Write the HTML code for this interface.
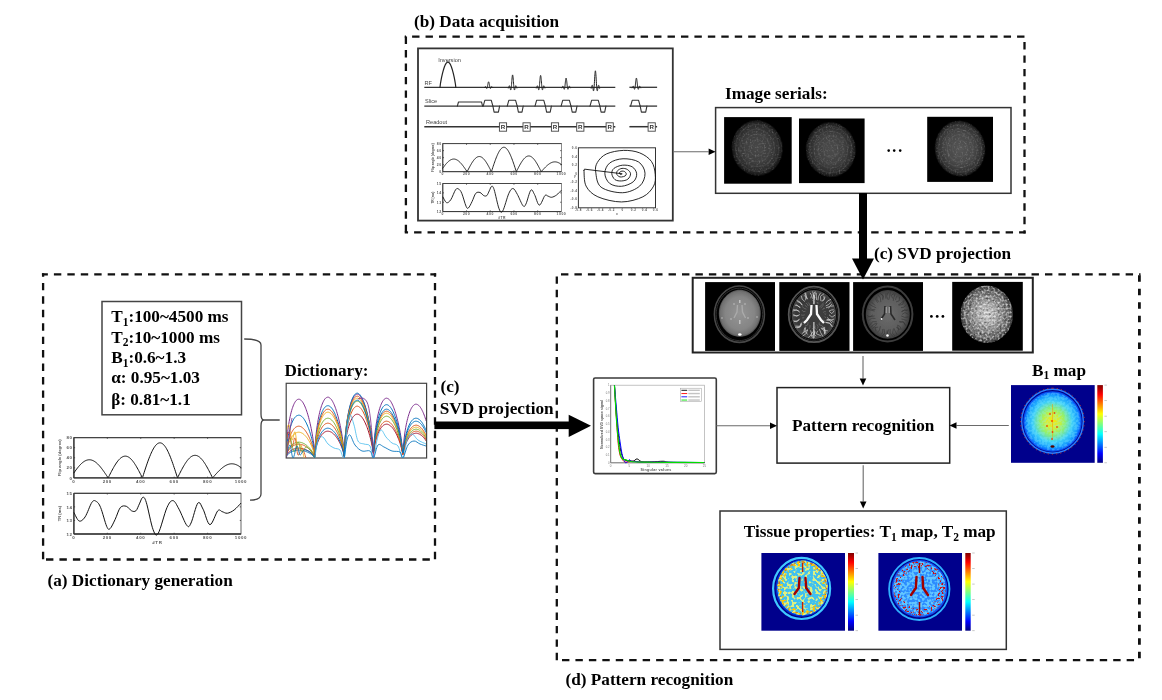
<!DOCTYPE html><html><head><meta charset="utf-8"><style>html,body{margin:0;padding:0;background:#fff;width:1162px;height:700px;overflow:hidden}svg{display:block;will-change:transform}</style></head><body><svg width="1162" height="700" viewBox="0 0 1162 700"><defs><clipPath id="dclip"><rect x="286.8" y="383.9" width="139.2" height="73.8"/></clipPath><filter id="noise" x="0" y="0" width="100%" height="100%"><feTurbulence type="fractalNoise" baseFrequency="0.6" numOctaves="2" seed="3"/><feColorMatrix type="matrix" values="0 0 0 0 1  0 0 0 0 1  0 0 0 0 1  0 0 0 2.2 -0.9"/></filter><filter id="noise2" x="0" y="0" width="100%" height="100%"><feTurbulence type="fractalNoise" baseFrequency="0.35" numOctaves="2" seed="11"/><feColorMatrix type="matrix" values="0 0 0 0 1  0 0 0 0 1  0 0 0 0 1  0 0 0 3 -1.4"/></filter><filter id="blur05"><feGaussianBlur stdDeviation="0.5"/></filter><filter id="blur1"><feGaussianBlur stdDeviation="1.2"/></filter><filter id="sn" x="0" y="0" width="100%" height="100%"><feTurbulence type="fractalNoise" baseFrequency="0.7" numOctaves="1" seed="2"/><feColorMatrix type="matrix" values="0 0 0 0 0.9  0 0 0 0 0.9  0 0 0 0 0.9  0 0 0 3 -1.5"/></filter><radialGradient id="gs1" cx="50%" cy="50%" r="50%"><stop offset="0" stop-color="#484848" stop-opacity="1"/><stop offset="0.55" stop-color="#3d3d3d" stop-opacity="1"/><stop offset="0.85" stop-color="#2b2b2b" stop-opacity="1"/><stop offset="1" stop-color="#151515" stop-opacity="1"/></radialGradient><clipPath id="cs1"><path d="M757.2,120.30000000000001 C770.0553348000001,120.30000000000001 782.5,132.65652 782.5,147.9 C782.5,163.14348 771.1731900000001,175.5 757.2,175.5 C743.22681,175.5 731.9000000000001,163.14348 731.9000000000001,147.9 C731.9000000000001,132.65652 744.3446652,120.30000000000001 757.2,120.30000000000001 Z"/></clipPath><radialGradient id="gs2" cx="50%" cy="50%" r="50%"><stop offset="0" stop-color="#4c4c4c" stop-opacity="1"/><stop offset="0.55" stop-color="#404040" stop-opacity="1"/><stop offset="0.85" stop-color="#2d2d2d" stop-opacity="1"/><stop offset="1" stop-color="#161616" stop-opacity="1"/></radialGradient><clipPath id="cs2"><path d="M830.8,122.2 C843.4012768,122.2 855.5999999999999,134.42221 855.5999999999999,149.5 C855.5999999999999,164.57779 844.49704,176.8 830.8,176.8 C817.1029599999999,176.8 806.0,164.57779 806.0,149.5 C806.0,134.42221 818.1987231999999,122.2 830.8,122.2 Z"/></clipPath><radialGradient id="gs3" cx="50%" cy="50%" r="50%"><stop offset="0" stop-color="#555555" stop-opacity="1"/><stop offset="0.55" stop-color="#484848" stop-opacity="1"/><stop offset="0.85" stop-color="#333333" stop-opacity="1"/><stop offset="1" stop-color="#191919" stop-opacity="1"/></radialGradient><clipPath id="cs3"><path d="M960,120.7 C972.7029,120.7 985,133.14606 985,148.5 C985,163.85394 973.8075,176.3 960,176.3 C946.1925,176.3 935,163.85394 935,148.5 C935,133.14606 947.2971,120.7 960,120.7 Z"/></clipPath><radialGradient id="gp1" cx="50%" cy="50%" r="50%"><stop offset="0" stop-color="#959595" stop-opacity="1"/><stop offset="0.7" stop-color="#858585" stop-opacity="1"/><stop offset="0.92" stop-color="#707070" stop-opacity="1"/><stop offset="1" stop-color="#505050" stop-opacity="1"/></radialGradient><radialGradient id="gp2" cx="50%" cy="50%" r="50%"><stop offset="0" stop-color="#404040" stop-opacity="1"/><stop offset="0.8" stop-color="#383838" stop-opacity="1"/><stop offset="1" stop-color="#4a4a4a" stop-opacity="1"/></radialGradient><radialGradient id="gp3" cx="50%" cy="50%" r="50%"><stop offset="0" stop-color="#6c6c6c" stop-opacity="1"/><stop offset="0.75" stop-color="#5c5c5c" stop-opacity="1"/><stop offset="1" stop-color="#3c3c3c" stop-opacity="1"/></radialGradient><radialGradient id="gp4" cx="50%" cy="50%" r="50%"><stop offset="0" stop-color="#d0d0d0" stop-opacity="1"/><stop offset="0.35" stop-color="#a8a8a8" stop-opacity="1"/><stop offset="0.7" stop-color="#707070" stop-opacity="1"/><stop offset="0.9" stop-color="#555" stop-opacity="1"/><stop offset="1" stop-color="#333" stop-opacity="1"/></radialGradient><filter id="noise3" x="0" y="0" width="100%" height="100%"><feTurbulence type="fractalNoise" baseFrequency="0.45" numOctaves="2" seed="5"/><feColorMatrix type="matrix" values="0 0 0 0 0  0 0 0 0 0  0 0 0 0 0  0 0 0 2.5 -1.15"/></filter><filter id="noise4" x="0" y="0" width="100%" height="100%"><feTurbulence type="fractalNoise" baseFrequency="0.5" numOctaves="2" seed="15"/><feColorMatrix type="matrix" values="0 0 0 0 1  0 0 0 0 1  0 0 0 0 1  0 0 0 3 -1.3"/></filter><clipPath id="cp4"><path d="M986.8,285.59999999999997 C1000.1126392,285.59999999999997 1013.0,298.40422 1013.0,314.2 C1013.0,329.99577999999997 1001.27026,342.8 986.8,342.8 C972.3297399999999,342.8 960.5999999999999,329.99577999999997 960.5999999999999,314.2 C960.5999999999999,298.40422 973.4873607999999,285.59999999999997 986.8,285.59999999999997 Z"/></clipPath><clipPath id="cp4b"><path d="M986.8,285.59999999999997 C1000.1126392,285.59999999999997 1013.0,298.40422 1013.0,314.2 C1013.0,329.99577999999997 1001.27026,342.8 986.8,342.8 C972.3297399999999,342.8 960.5999999999999,329.99577999999997 960.5999999999999,314.2 C960.5999999999999,298.40422 973.4873607999999,285.59999999999997 986.8,285.59999999999997 Z"/></clipPath><linearGradient id="jet" x1="0" y1="0" x2="0" y2="1"><stop offset="0" stop-color="#800000"/><stop offset="0.12" stop-color="#ff0000"/><stop offset="0.37" stop-color="#ffff00"/><stop offset="0.5" stop-color="#80ff80"/><stop offset="0.63" stop-color="#00ffff"/><stop offset="0.88" stop-color="#0000ff"/><stop offset="1" stop-color="#000080"/></linearGradient><filter id="yel" x="0" y="0" width="100%" height="100%"><feTurbulence type="fractalNoise" baseFrequency="0.32" numOctaves="1" seed="4"/><feColorMatrix type="matrix" values="0 0 0 0 0.85  0 0 0 0 0.9  0 0 0 0 0.15  0 0 0 9 -4.4"/></filter><filter id="ora" x="0" y="0" width="100%" height="100%"><feTurbulence type="fractalNoise" baseFrequency="0.45" numOctaves="1" seed="8"/><feColorMatrix type="matrix" values="0 0 0 0 1.0  0 0 0 0 0.55  0 0 0 0 0.0  0 0 0 8 -4.2"/></filter><filter id="red" x="0" y="0" width="100%" height="100%"><feTurbulence type="fractalNoise" baseFrequency="0.55" numOctaves="1" seed="13"/><feColorMatrix type="matrix" values="0 0 0 0 0.7  0 0 0 0 0.0  0 0 0 0 0.0  0 0 0 9 -4.9"/></filter><filter id="cya" x="0" y="0" width="100%" height="100%"><feTurbulence type="fractalNoise" baseFrequency="0.4" numOctaves="1" seed="17"/><feColorMatrix type="matrix" values="0 0 0 0 0.25  0 0 0 0 0.85  0 0 0 0 1.0  0 0 0 7 -3.0"/></filter><radialGradient id="b1g" cx="50%" cy="50%" r="50%"><stop offset="0" stop-color="#f8e800" stop-opacity="1"/><stop offset="0.22" stop-color="#d8f030" stop-opacity="1"/><stop offset="0.45" stop-color="#90f070" stop-opacity="1"/><stop offset="0.7" stop-color="#40d0f8" stop-opacity="1"/><stop offset="0.9" stop-color="#18a0ff" stop-opacity="1"/><stop offset="1" stop-color="#0868ff" stop-opacity="1"/></radialGradient><clipPath id="cb1c"><path d="M1052.5,392.5 C1066.881892,392.5 1080.5,405.4833 1080.5,421.5 C1080.5,437.5167 1067.9644,450.5 1052.5,450.5 C1037.0356,450.5 1024.5,437.5167 1024.5,421.5 C1024.5,405.4833 1038.118108,392.5 1052.5,392.5 Z"/></clipPath><filter id="yel2" x="0" y="0" width="100%" height="100%"><feTurbulence type="fractalNoise" baseFrequency="0.38" numOctaves="1" seed="4"/><feColorMatrix type="matrix" values="0 0 0 0 0.8  0 0 0 0 0.9  0 0 0 0 0.2  0 0 0 10 -5.0"/></filter><clipPath id="ct1y"><path d="M802.6,560.4 C815.5950667000001,560.4 827.9,572.66698 827.9,587.8 C827.9,602.9330199999999 816.5731900000001,615.1999999999999 802.6,615.1999999999999 C788.62681,615.1999999999999 777.3000000000001,602.9330199999999 777.3000000000001,587.8 C777.3000000000001,572.66698 789.6049333,560.4 802.6,560.4 Z"/></clipPath><clipPath id="ct1o"><path d="M802.6,560.4 C815.5950667000001,560.4 827.9,572.66698 827.9,587.8 C827.9,602.9330199999999 816.5731900000001,615.1999999999999 802.6,615.1999999999999 C788.62681,615.1999999999999 777.3000000000001,602.9330199999999 777.3000000000001,587.8 C777.3000000000001,572.66698 789.6049333,560.4 802.6,560.4 Z M802.6,565.8 C812.87278,565.8 822.6,575.6493999999999 822.6,587.8 C822.6,599.9506 813.6460000000001,609.8 802.6,609.8 C791.554,609.8 782.6,599.9506 782.6,587.8 C782.6,575.6493999999999 792.32722,565.8 802.6,565.8 Z" clip-rule="evenodd"/></clipPath><clipPath id="ct2c"><path d="M919.5,561.3 C932.9573418,561.3 945.7,573.47744 945.7,588.5 C945.7,603.52256 933.97026,615.7 919.5,615.7 C905.02974,615.7 893.3,603.52256 893.3,588.5 C893.3,573.47744 906.0426582,561.3 919.5,561.3 Z"/></clipPath><clipPath id="ct2r"><path d="M919.5,561.3 C932.9573418,561.3 945.7,573.47744 945.7,588.5 C945.7,603.52256 933.97026,615.7 919.5,615.7 C905.02974,615.7 893.3,603.52256 893.3,588.5 C893.3,573.47744 906.0426582,561.3 919.5,561.3 Z M919.5,568.0 C929.5159605,568.0 939.0,577.17785 939.0,588.5 C939.0,599.82215 930.26985,609.0 919.5,609.0 C908.73015,609.0 900.0,599.82215 900.0,588.5 C900.0,577.17785 909.4840395,568.0 919.5,568.0 Z" clip-rule="evenodd"/></clipPath></defs><rect width="1162" height="700" fill="#fff"/><path d="M404.75,36.7 L406.06,36.7 M412.10,36.7 L419.50,36.7 M425.54,36.7 L432.94,36.7 M438.99,36.7 L446.39,36.7 M452.43,36.7 L459.83,36.7 M465.88,36.7 L473.28,36.7 M479.32,36.7 L486.72,36.7 M492.76,36.7 L500.16,36.7 M506.21,36.7 L513.61,36.7 M519.65,36.7 L527.05,36.7 M533.10,36.7 L540.50,36.7 M546.54,36.7 L553.94,36.7 M559.98,36.7 L567.38,36.7 M573.43,36.7 L580.83,36.7 M586.87,36.7 L594.27,36.7 M600.32,36.7 L607.72,36.7 M613.76,36.7 L621.16,36.7 M627.20,36.7 L634.60,36.7 M640.65,36.7 L648.05,36.7 M654.09,36.7 L661.49,36.7 M667.54,36.7 L674.94,36.7 M680.98,36.7 L688.38,36.7 M694.42,36.7 L701.82,36.7 M707.87,36.7 L715.27,36.7 M721.31,36.7 L728.71,36.7 M734.76,36.7 L742.16,36.7 M748.20,36.7 L755.60,36.7 M761.64,36.7 L769.04,36.7 M775.09,36.7 L782.49,36.7 M788.53,36.7 L795.93,36.7 M801.98,36.7 L809.38,36.7 M815.42,36.7 L822.82,36.7 M828.86,36.7 L836.26,36.7 M842.31,36.7 L849.71,36.7 M855.75,36.7 L863.15,36.7 M869.20,36.7 L876.60,36.7 M882.64,36.7 L890.04,36.7 M896.08,36.7 L903.48,36.7 M909.53,36.7 L916.93,36.7 M922.97,36.7 L930.37,36.7 M936.42,36.7 L943.82,36.7 M949.86,36.7 L957.26,36.7 M963.30,36.7 L970.70,36.7 M976.75,36.7 L984.15,36.7 M990.19,36.7 L997.59,36.7 M1003.64,36.7 L1011.04,36.7 M1017.08,36.7 L1024.48,36.7" stroke="#111" stroke-width="2.3" fill="none"/>
<path d="M404.75,232.4 L408.06,232.4 M414.10,232.4 L421.50,232.4 M427.54,232.4 L434.94,232.4 M440.99,232.4 L448.39,232.4 M454.43,232.4 L461.83,232.4 M467.88,232.4 L475.28,232.4 M481.32,232.4 L488.72,232.4 M494.76,232.4 L502.16,232.4 M508.21,232.4 L515.61,232.4 M521.65,232.4 L529.05,232.4 M535.10,232.4 L542.50,232.4 M548.54,232.4 L555.94,232.4 M561.98,232.4 L569.38,232.4 M575.43,232.4 L582.83,232.4 M588.87,232.4 L596.27,232.4 M602.32,232.4 L609.72,232.4 M615.76,232.4 L623.16,232.4 M629.20,232.4 L636.60,232.4 M642.65,232.4 L650.05,232.4 M656.09,232.4 L663.49,232.4 M669.54,232.4 L676.94,232.4 M682.98,232.4 L690.38,232.4 M696.42,232.4 L703.82,232.4 M709.87,232.4 L717.27,232.4 M723.31,232.4 L730.71,232.4 M736.76,232.4 L744.16,232.4 M750.20,232.4 L757.60,232.4 M763.64,232.4 L771.04,232.4 M777.09,232.4 L784.49,232.4 M790.53,232.4 L797.93,232.4 M803.98,232.4 L811.38,232.4 M817.42,232.4 L824.82,232.4 M830.86,232.4 L838.26,232.4 M844.31,232.4 L851.71,232.4 M857.75,232.4 L865.15,232.4 M871.20,232.4 L878.60,232.4 M884.64,232.4 L892.04,232.4 M898.08,232.4 L905.48,232.4 M911.53,232.4 L918.93,232.4 M924.97,232.4 L932.37,232.4 M938.42,232.4 L945.82,232.4 M951.86,232.4 L959.26,232.4 M965.30,232.4 L972.70,232.4 M978.75,232.4 L986.15,232.4 M992.19,232.4 L999.59,232.4 M1005.64,232.4 L1013.04,232.4 M1019.08,232.4 L1025.65,232.4" stroke="#111" stroke-width="2.3" fill="none"/>
<path d="M405.9,36.60 L405.9,44.00 M405.9,50.04 L405.9,57.44 M405.9,63.49 L405.9,70.89 M405.9,76.93 L405.9,84.33 M405.9,90.38 L405.9,97.78 M405.9,103.82 L405.9,111.22 M405.9,117.26 L405.9,124.66 M405.9,130.71 L405.9,138.11 M405.9,144.15 L405.9,151.55 M405.9,157.60 L405.9,165.00 M405.9,171.04 L405.9,178.44 M405.9,184.48 L405.9,191.88 M405.9,197.93 L405.9,205.33 M405.9,211.37 L405.9,218.77 M405.9,224.82 L405.9,232.22" stroke="#111" stroke-width="2.3" fill="none"/>
<path d="M1024.5,42.00 L1024.5,49.40 M1024.5,55.44 L1024.5,62.84 M1024.5,68.89 L1024.5,76.29 M1024.5,82.33 L1024.5,89.73 M1024.5,95.78 L1024.5,103.18 M1024.5,109.22 L1024.5,116.62 M1024.5,122.66 L1024.5,130.06 M1024.5,136.11 L1024.5,143.51 M1024.5,149.55 L1024.5,156.95 M1024.5,163.00 L1024.5,170.40 M1024.5,176.44 L1024.5,183.84 M1024.5,189.88 L1024.5,197.28 M1024.5,203.33 L1024.5,210.73 M1024.5,216.77 L1024.5,224.17 M1024.5,230.22 L1024.5,233.55" stroke="#111" stroke-width="2.3" fill="none"/>
<path d="M41.95,274.4 L47.86,274.4 M53.90,274.4 L61.30,274.4 M67.34,274.4 L74.74,274.4 M80.79,274.4 L88.19,274.4 M94.23,274.4 L101.63,274.4 M107.68,274.4 L115.08,274.4 M121.12,274.4 L128.52,274.4 M134.56,274.4 L141.96,274.4 M148.01,274.4 L155.41,274.4 M161.45,274.4 L168.85,274.4 M174.90,274.4 L182.30,274.4 M188.34,274.4 L195.74,274.4 M201.78,274.4 L209.18,274.4 M215.23,274.4 L222.63,274.4 M228.67,274.4 L236.07,274.4 M242.12,274.4 L249.52,274.4 M255.56,274.4 L262.96,274.4 M269.00,274.4 L276.40,274.4 M282.45,274.4 L289.85,274.4 M295.89,274.4 L303.29,274.4 M309.34,274.4 L316.74,274.4 M322.78,274.4 L330.18,274.4 M336.22,274.4 L343.62,274.4 M349.67,274.4 L357.07,274.4 M363.11,274.4 L370.51,274.4 M376.56,274.4 L383.96,274.4 M390.00,274.4 L397.40,274.4 M403.44,274.4 L410.84,274.4 M416.89,274.4 L424.29,274.4 M430.33,274.4 L436.15,274.4" stroke="#111" stroke-width="2.3" fill="none"/>
<path d="M46.00,559.5 L53.40,559.5 M59.44,559.5 L66.84,559.5 M72.89,559.5 L80.29,559.5 M86.33,559.5 L93.73,559.5 M99.78,559.5 L107.18,559.5 M113.22,559.5 L120.62,559.5 M126.66,559.5 L134.06,559.5 M140.11,559.5 L147.51,559.5 M153.55,559.5 L160.95,559.5 M167.00,559.5 L174.40,559.5 M180.44,559.5 L187.84,559.5 M193.88,559.5 L201.28,559.5 M207.33,559.5 L214.73,559.5 M220.77,559.5 L228.17,559.5 M234.22,559.5 L241.62,559.5 M247.66,559.5 L255.06,559.5 M261.10,559.5 L268.50,559.5 M274.55,559.5 L281.95,559.5 M287.99,559.5 L295.39,559.5 M301.44,559.5 L308.84,559.5 M314.88,559.5 L322.28,559.5 M328.32,559.5 L335.72,559.5 M341.77,559.5 L349.17,559.5 M355.21,559.5 L362.61,559.5 M368.66,559.5 L376.06,559.5 M382.10,559.5 L389.50,559.5 M395.54,559.5 L402.94,559.5 M408.99,559.5 L416.39,559.5 M422.43,559.5 L429.83,559.5" stroke="#111" stroke-width="2.3" fill="none"/>
<path d="M43.1,273.25 L43.1,276.86 M43.1,282.90 L43.1,290.30 M43.1,296.34 L43.1,303.74 M43.1,309.79 L43.1,317.19 M43.1,323.23 L43.1,330.63 M43.1,336.68 L43.1,344.08 M43.1,350.12 L43.1,357.52 M43.1,363.56 L43.1,370.96 M43.1,377.01 L43.1,384.41 M43.1,390.45 L43.1,397.85 M43.1,403.90 L43.1,411.30 M43.1,417.34 L43.1,424.74 M43.1,430.78 L43.1,438.18 M43.1,444.23 L43.1,451.63 M43.1,457.67 L43.1,465.07 M43.1,471.12 L43.1,478.52 M43.1,484.56 L43.1,491.96 M43.1,498.00 L43.1,505.40 M43.1,511.45 L43.1,518.85 M43.1,524.89 L43.1,532.29 M43.1,538.34 L43.1,545.74 M43.1,551.78 L43.1,559.18" stroke="#111" stroke-width="2.3" fill="none"/>
<path d="M435,273.25 L435,276.86 M435,282.90 L435,290.30 M435,296.34 L435,303.74 M435,309.79 L435,317.19 M435,323.23 L435,330.63 M435,336.68 L435,344.08 M435,350.12 L435,357.52 M435,363.56 L435,370.96 M435,377.01 L435,384.41 M435,390.45 L435,397.85 M435,403.90 L435,411.30 M435,417.34 L435,424.74 M435,430.78 L435,438.18 M435,444.23 L435,451.63 M435,457.67 L435,465.07 M435,471.12 L435,478.52 M435,484.56 L435,491.96 M435,498.00 L435,505.40 M435,511.45 L435,518.85 M435,524.89 L435,532.29 M435,538.34 L435,545.74 M435,551.78 L435,559.18" stroke="#111" stroke-width="2.3" fill="none"/>
<path d="M561.00,274.4 L568.40,274.4 M574.44,274.4 L581.84,274.4 M587.89,274.4 L595.29,274.4 M601.33,274.4 L608.73,274.4 M614.78,274.4 L622.18,274.4 M628.22,274.4 L635.62,274.4 M641.66,274.4 L649.06,274.4 M655.11,274.4 L662.51,274.4 M668.55,274.4 L675.95,274.4 M682.00,274.4 L689.40,274.4 M695.44,274.4 L702.84,274.4 M708.88,274.4 L716.28,274.4 M722.33,274.4 L729.73,274.4 M735.77,274.4 L743.17,274.4 M749.22,274.4 L756.62,274.4 M762.66,274.4 L770.06,274.4 M776.10,274.4 L783.50,274.4 M789.55,274.4 L796.95,274.4 M802.99,274.4 L810.39,274.4 M816.44,274.4 L823.84,274.4 M829.88,274.4 L837.28,274.4 M843.32,274.4 L850.72,274.4 M856.77,274.4 L864.17,274.4 M870.21,274.4 L877.61,274.4 M883.66,274.4 L891.06,274.4 M897.10,274.4 L904.50,274.4 M910.54,274.4 L917.94,274.4 M923.99,274.4 L931.39,274.4 M937.43,274.4 L944.83,274.4 M950.88,274.4 L958.28,274.4 M964.32,274.4 L971.72,274.4 M977.76,274.4 L985.16,274.4 M991.21,274.4 L998.61,274.4 M1004.65,274.4 L1012.05,274.4 M1018.10,274.4 L1025.50,274.4 M1031.54,274.4 L1038.94,274.4 M1044.98,274.4 L1052.38,274.4 M1058.43,274.4 L1065.83,274.4 M1071.87,274.4 L1079.27,274.4 M1085.32,274.4 L1092.72,274.4 M1098.76,274.4 L1106.16,274.4 M1112.20,274.4 L1119.60,274.4 M1125.65,274.4 L1133.05,274.4 M1139.09,274.4 L1140.55,274.4" stroke="#111" stroke-width="2.3" fill="none"/>
<path d="M562.00,660.1 L569.40,660.1 M575.44,660.1 L582.84,660.1 M588.89,660.1 L596.29,660.1 M602.33,660.1 L609.73,660.1 M615.78,660.1 L623.18,660.1 M629.22,660.1 L636.62,660.1 M642.66,660.1 L650.06,660.1 M656.11,660.1 L663.51,660.1 M669.55,660.1 L676.95,660.1 M683.00,660.1 L690.40,660.1 M696.44,660.1 L703.84,660.1 M709.88,660.1 L717.28,660.1 M723.33,660.1 L730.73,660.1 M736.77,660.1 L744.17,660.1 M750.22,660.1 L757.62,660.1 M763.66,660.1 L771.06,660.1 M777.10,660.1 L784.50,660.1 M790.55,660.1 L797.95,660.1 M803.99,660.1 L811.39,660.1 M817.44,660.1 L824.84,660.1 M830.88,660.1 L838.28,660.1 M844.32,660.1 L851.72,660.1 M857.77,660.1 L865.17,660.1 M871.21,660.1 L878.61,660.1 M884.66,660.1 L892.06,660.1 M898.10,660.1 L905.50,660.1 M911.54,660.1 L918.94,660.1 M924.99,660.1 L932.39,660.1 M938.43,660.1 L945.83,660.1 M951.88,660.1 L959.28,660.1 M965.32,660.1 L972.72,660.1 M978.76,660.1 L986.16,660.1 M992.21,660.1 L999.61,660.1 M1005.65,660.1 L1013.05,660.1 M1019.10,660.1 L1026.50,660.1 M1032.54,660.1 L1039.94,660.1 M1045.98,660.1 L1053.38,660.1 M1059.43,660.1 L1066.83,660.1 M1072.87,660.1 L1080.27,660.1 M1086.32,660.1 L1093.72,660.1 M1099.76,660.1 L1107.16,660.1 M1113.20,660.1 L1120.60,660.1 M1126.65,660.1 L1134.05,660.1" stroke="#111" stroke-width="2.3" fill="none"/>
<path d="M556.8,276.40 L556.8,283.80 M556.8,289.84 L556.8,297.24 M556.8,303.29 L556.8,310.69 M556.8,316.73 L556.8,324.13 M556.8,330.18 L556.8,337.58 M556.8,343.62 L556.8,351.02 M556.8,357.06 L556.8,364.46 M556.8,370.51 L556.8,377.91 M556.8,383.95 L556.8,391.35 M556.8,397.40 L556.8,404.80 M556.8,410.84 L556.8,418.24 M556.8,424.28 L556.8,431.68 M556.8,437.73 L556.8,445.13 M556.8,451.17 L556.8,458.57 M556.8,464.62 L556.8,472.02 M556.8,478.06 L556.8,485.46 M556.8,491.50 L556.8,498.90 M556.8,504.95 L556.8,512.35 M556.8,518.39 L556.8,525.79 M556.8,531.84 L556.8,539.24 M556.8,545.28 L556.8,552.68 M556.8,558.72 L556.8,566.12 M556.8,572.17 L556.8,579.57 M556.8,585.61 L556.8,593.01 M556.8,599.06 L556.8,606.46 M556.8,612.50 L556.8,619.90 M556.8,625.94 L556.8,633.34 M556.8,639.39 L556.8,646.79 M556.8,652.83 L556.8,660.23" stroke="#111" stroke-width="2.3" fill="none"/>
<path d="M1139.4,275.30 L1139.4,281.80 M1139.4,288.74 L1139.4,295.24 M1139.4,302.19 L1139.4,308.69 M1139.4,315.63 L1139.4,322.13 M1139.4,329.08 L1139.4,335.58 M1139.4,342.52 L1139.4,349.02 M1139.4,355.96 L1139.4,362.46 M1139.4,369.41 L1139.4,375.91 M1139.4,382.85 L1139.4,389.35 M1139.4,396.30 L1139.4,402.80 M1139.4,409.74 L1139.4,416.24 M1139.4,423.18 L1139.4,429.68 M1139.4,436.63 L1139.4,443.13 M1139.4,450.07 L1139.4,456.57 M1139.4,463.52 L1139.4,470.02 M1139.4,476.96 L1139.4,483.46 M1139.4,490.40 L1139.4,496.90 M1139.4,503.85 L1139.4,510.35 M1139.4,517.29 L1139.4,523.79 M1139.4,530.74 L1139.4,537.24 M1139.4,544.18 L1139.4,550.68 M1139.4,557.62 L1139.4,564.12 M1139.4,571.07 L1139.4,577.57 M1139.4,584.51 L1139.4,591.01 M1139.4,597.96 L1139.4,604.46 M1139.4,611.40 L1139.4,617.90 M1139.4,624.84 L1139.4,631.34 M1139.4,638.29 L1139.4,644.79 M1139.4,651.73 L1139.4,658.23" stroke="#111" stroke-width="2.8" fill="none"/>
<text x="414" y="26.5" font-family="Liberation Serif" font-weight="bold" font-size="17.2" >(b) Data acquisition</text>
<text x="725" y="99" font-family="Liberation Serif" font-weight="bold" font-size="17.2" >Image serials:</text>
<text x="874" y="259.3" font-family="Liberation Serif" font-weight="bold" font-size="17.2" >(c) SVD projection</text>
<text x="47.5" y="586" font-family="Liberation Serif" font-weight="bold" font-size="17.2" >(a) Dictionary generation</text>
<text x="284.5" y="375.5" font-family="Liberation Serif" font-weight="bold" font-size="17.2" >Dictionary:</text>
<text x="440.5" y="391.5" font-family="Liberation Serif" font-weight="bold" font-size="17.2" >(c)</text>
<text x="439.8" y="414" font-family="Liberation Serif" font-weight="bold" font-size="17.2" >SVD projection</text>
<text x="792" y="430.6" font-family="Liberation Serif" font-weight="bold" font-size="17.2" >Pattern recognition</text>
<text x="1032" y="375.5" font-family="Liberation Serif" font-weight="bold" font-size="17.2" >B<tspan font-size="11.5" dy="3.5">1</tspan><tspan dy="-3.5"> map</tspan></text>
<text x="743.8" y="537.3" font-family="Liberation Serif" font-weight="bold" font-size="17.2" >Tissue properties: T<tspan font-size="11.5" dy="3.5">1</tspan><tspan dy="-3.5"> map, T</tspan><tspan font-size="11.5" dy="3.5">2</tspan><tspan dy="-3.5"> map</tspan></text>
<text x="565.5" y="685" font-family="Liberation Serif" font-weight="bold" font-size="17.2" >(d) Pattern recognition</text>
<text x="111.2" y="322.2" font-family="Liberation Serif" font-weight="bold" font-size="17.2" >T<tspan font-size="11.5" dy="3.5">1</tspan><tspan dy="-3.5">:100~4500 ms</tspan></text>
<text x="111.2" y="342.59999999999997" font-family="Liberation Serif" font-weight="bold" font-size="17.2" >T<tspan font-size="11.5" dy="3.5">2</tspan><tspan dy="-3.5">:10~1000 ms</tspan></text>
<text x="111.2" y="363.3" font-family="Liberation Serif" font-weight="bold" font-size="17.2" >B<tspan font-size="11.5" dy="3.5">1</tspan><tspan dy="-3.5">:0.6~1.3</tspan></text>
<text x="111.2" y="383.3" font-family="Liberation Serif" font-weight="bold" font-size="17.2" >α: 0.95~1.03</text>
<text x="111.2" y="404.7" font-family="Liberation Serif" font-weight="bold" font-size="17.2" >β: 0.81~1.1</text>
<rect x="418" y="48.4" width="254.79999999999995" height="172.2" fill="none" stroke="#333" stroke-width="1.8" rx="0"/>
<rect x="715.6" y="107.6" width="295.4" height="85.70000000000002" fill="none" stroke="#333" stroke-width="1.5" rx="0"/>
<rect x="102" y="301.5" width="139.5" height="113.30000000000001" fill="none" stroke="#444" stroke-width="1.5" rx="0"/>
<rect x="286.2" y="383.3" width="140.40000000000003" height="74.69999999999999" fill="none" stroke="#444" stroke-width="1.2" rx="0"/>
<rect x="692.7" y="277.8" width="340.0999999999999" height="74.69999999999999" fill="none" stroke="#222" stroke-width="2" rx="0"/>
<rect x="593.6" y="378" width="122.69999999999993" height="95.60000000000002" fill="none" stroke="#3a3a3a" stroke-width="1.6" rx="1.5"/>
<rect x="777" y="387.6" width="172.70000000000005" height="75.5" fill="none" stroke="#222" stroke-width="1.5" rx="0"/>
<rect x="720" y="511" width="286.29999999999995" height="138.39999999999998" fill="none" stroke="#333" stroke-width="1.5" rx="0"/>
<line x1="673" y1="151.8" x2="708.6" y2="151.8" stroke="#6a6a6a" stroke-width="1.1"/>
<polygon points="715.6,151.8 708.6,148.5 708.6,155.10000000000002" fill="#000"/>
<rect x="859" y="193" width="8" height="66" fill="#000"/>
<polygon points="852,258.6 874,258.6 863,279.4" fill="#000"/>
<rect x="434.4" y="421.5" width="135" height="7.6" fill="#000"/>
<polygon points="568.7,414.8 568.7,436.9 591,425.8" fill="#000"/>
<line x1="863" y1="356" x2="863" y2="378.5" stroke="#6a6a6a" stroke-width="1.1"/>
<polygon points="863,385.5 859.7,378.5 866.3,378.5" fill="#000"/>
<line x1="716.3" y1="425.7" x2="770" y2="425.7" stroke="#6a6a6a" stroke-width="1.1"/>
<polygon points="777,425.7 770,422.4 770,429.0" fill="#000"/>
<line x1="1008.8" y1="425.5" x2="956.5" y2="425.5" stroke="#6a6a6a" stroke-width="1.1"/>
<polygon points="949.5,425.5 956.5,422.2 956.5,428.8" fill="#000"/>
<line x1="863.2" y1="465.3" x2="863.2" y2="501.4" stroke="#6a6a6a" stroke-width="1.1"/>
<polygon points="863.2,508.4 859.9000000000001,501.4 866.5,501.4" fill="#000"/>
<path d="M244.2,339 Q261,339 261,345 L261,414 Q261,420 264,420 L279.7,420 M264,420 Q261,420 261,426 L261,494 Q261,500 250,500.2" fill="none" stroke="#444" stroke-width="1.3"/>
<line x1="424.3" y1="87.3" x2="615.3" y2="87.3" stroke="#333" stroke-width="1.3"/>
<line x1="629.4" y1="87.3" x2="657.1" y2="87.3" stroke="#333" stroke-width="1.3"/>
<line x1="424.3" y1="106.1" x2="615.3" y2="106.1" stroke="#333" stroke-width="1.3"/>
<line x1="629.4" y1="106.1" x2="657.1" y2="106.1" stroke="#333" stroke-width="1.3"/>
<line x1="424.3" y1="126.7" x2="615.3" y2="126.7" stroke="#333" stroke-width="1.5"/>
<line x1="629.4" y1="126.7" x2="657.1" y2="126.7" stroke="#333" stroke-width="1.5"/>
<text x="424.5" y="85.3" font-family="Liberation Sans" font-size="5.6" fill="#444" >RF</text>
<text x="425" y="103.2" font-family="Liberation Sans" font-size="5.6" fill="#444" >Slice</text>
<text x="426" y="124.2" font-family="Liberation Sans" font-size="5.6" fill="#444" >Readout</text>
<text x="438.2" y="62.2" font-family="Liberation Sans" font-size="5.6" fill="#444" >Inversion</text>
<polyline fill="none" stroke="#222" stroke-width="1.2" stroke-linejoin="round" stroke-linecap="round" points="440.00,87.30 440.39,84.01 440.79,81.59 441.19,79.43 441.58,77.45 441.98,75.61 442.37,73.90 442.76,72.31 443.16,70.83 443.56,69.46 443.95,68.20 444.35,67.06 444.74,66.03 445.13,65.12 445.53,64.32 445.93,63.65 446.32,63.09 446.72,62.66 447.11,62.35 447.50,62.16 447.90,62.10 448.30,62.16 448.69,62.35 449.08,62.66 449.48,63.09 449.88,63.65 450.27,64.32 450.67,65.12 451.06,66.03 451.45,67.06 451.85,68.20 452.25,69.46 452.64,70.83 453.04,72.31 453.43,73.90 453.82,75.61 454.22,77.45 454.62,79.43 455.01,81.59 455.41,84.01 455.80,87.30" />
<polyline fill="none" stroke="#222" stroke-width="1" stroke-linejoin="round" stroke-linecap="round" points="484.44,87.62 484.54,87.51 484.65,87.37 484.75,87.23 484.86,87.08 484.96,86.93 485.06,86.80 485.17,86.70 485.27,86.63 485.38,86.60 485.48,86.61 485.58,86.66 485.69,86.76 485.79,86.91 485.90,87.09 486.00,87.30 486.10,87.53 486.21,87.76 486.31,87.98 486.42,88.18 486.52,88.34 486.62,88.45 486.73,88.49 486.83,88.46 486.94,88.35 487.04,88.16 487.14,87.88 487.25,87.51 487.35,87.07 487.46,86.57 487.56,86.01 487.66,85.43 487.77,84.82 487.87,84.23 487.98,83.66 488.08,83.14 488.18,82.68 488.29,82.31 488.39,82.03 488.50,81.86 488.60,81.80 488.70,81.86 488.81,82.03 488.91,82.31 489.02,82.68 489.12,83.14 489.22,83.66 489.33,84.23 489.43,84.82 489.54,85.43 489.64,86.01 489.74,86.57 489.85,87.07 489.95,87.51 490.06,87.88 490.16,88.16 490.26,88.35 490.37,88.46 490.47,88.49 490.58,88.45 490.68,88.34 490.78,88.18 490.89,87.98 490.99,87.76 491.10,87.53 491.20,87.30 491.30,87.09 491.41,86.91 491.51,86.76 491.62,86.66 491.72,86.61 491.82,86.60 491.93,86.63 492.03,86.70 492.14,86.80 492.24,86.93 492.34,87.08 492.45,87.23 492.55,87.37 492.66,87.51 492.76,87.62" />
<polyline fill="none" stroke="#222" stroke-width="1" stroke-linejoin="round" stroke-linecap="round" points="508.44,88.03 508.54,87.77 508.65,87.46 508.75,87.13 508.86,86.80 508.96,86.47 509.06,86.18 509.17,85.95 509.27,85.79 509.38,85.71 509.48,85.74 509.58,85.86 509.69,86.09 509.79,86.42 509.90,86.83 510.00,87.30 510.10,87.81 510.21,88.33 510.31,88.84 510.42,89.28 510.52,89.65 510.62,89.89 510.73,89.99 510.83,89.93 510.94,89.68 511.04,89.23 511.14,88.60 511.25,87.78 511.35,86.78 511.46,85.65 511.56,84.40 511.66,83.08 511.77,81.72 511.87,80.38 511.98,79.09 512.08,77.92 512.18,76.89 512.29,76.04 512.39,75.42 512.50,75.03 512.60,74.90 512.70,75.03 512.81,75.42 512.91,76.04 513.02,76.89 513.12,77.92 513.22,79.09 513.33,80.38 513.43,81.72 513.54,83.08 513.64,84.40 513.74,85.65 513.85,86.78 513.95,87.78 514.06,88.60 514.16,89.23 514.26,89.68 514.37,89.93 514.47,89.99 514.58,89.89 514.68,89.65 514.78,89.28 514.89,88.84 514.99,88.33 515.10,87.81 515.20,87.30 515.30,86.83 515.41,86.42 515.51,86.09 515.62,85.86 515.72,85.74 515.82,85.71 515.93,85.79 516.03,85.95 516.14,86.18 516.24,86.47 516.34,86.80 516.45,87.13 516.55,87.46 516.66,87.77 516.76,88.03" />
<polyline fill="none" stroke="#222" stroke-width="1" stroke-linejoin="round" stroke-linecap="round" points="536.44,88.00 536.54,87.75 536.65,87.46 536.75,87.14 536.86,86.82 536.96,86.50 537.06,86.23 537.17,86.00 537.27,85.85 537.38,85.78 537.48,85.80 537.58,85.92 537.69,86.14 537.79,86.46 537.90,86.85 538.00,87.30 538.10,87.79 538.21,88.29 538.31,88.77 538.42,89.20 538.52,89.55 538.62,89.79 538.73,89.88 538.83,89.82 538.94,89.58 539.04,89.16 539.14,88.55 539.25,87.76 539.35,86.81 539.46,85.72 539.56,84.52 539.66,83.25 539.77,81.94 539.87,80.66 539.98,79.42 540.08,78.29 540.18,77.31 540.29,76.50 540.39,75.89 540.50,75.52 540.60,75.40 540.70,75.52 540.81,75.89 540.91,76.50 541.02,77.31 541.12,78.29 541.22,79.42 541.33,80.66 541.43,81.94 541.54,83.25 541.64,84.52 541.74,85.72 541.85,86.81 541.95,87.76 542.06,88.55 542.16,89.16 542.26,89.58 542.37,89.82 542.47,89.88 542.58,89.79 542.68,89.55 542.78,89.20 542.89,88.77 542.99,88.29 543.10,87.79 543.20,87.30 543.30,86.85 543.41,86.46 543.51,86.14 543.62,85.92 543.72,85.80 543.82,85.78 543.93,85.85 544.03,86.00 544.14,86.23 544.24,86.50 544.34,86.82 544.45,87.14 544.55,87.46 544.66,87.75 544.76,88.00" />
<polyline fill="none" stroke="#222" stroke-width="1" stroke-linejoin="round" stroke-linecap="round" points="561.94,87.84 562.04,87.65 562.15,87.42 562.25,87.18 562.36,86.93 562.46,86.69 562.56,86.47 562.67,86.30 562.77,86.18 562.88,86.12 562.98,86.14 563.08,86.23 563.19,86.41 563.29,86.65 563.40,86.95 563.50,87.30 563.60,87.68 563.71,88.07 563.81,88.44 563.92,88.77 564.02,89.04 564.12,89.22 564.23,89.30 564.33,89.25 564.44,89.06 564.54,88.73 564.64,88.26 564.75,87.65 564.85,86.92 564.96,86.07 565.06,85.15 565.16,84.17 565.27,83.16 565.37,82.16 565.48,81.21 565.58,80.34 565.68,79.57 565.79,78.95 565.89,78.48 566.00,78.20 566.10,78.10 566.20,78.20 566.31,78.48 566.41,78.95 566.52,79.57 566.62,80.34 566.72,81.21 566.83,82.16 566.93,83.16 567.04,84.17 567.14,85.15 567.24,86.07 567.35,86.92 567.45,87.65 567.56,88.26 567.66,88.73 567.76,89.06 567.87,89.25 567.97,89.30 568.08,89.22 568.18,89.04 568.28,88.77 568.39,88.44 568.49,88.07 568.60,87.68 568.70,87.30 568.80,86.95 568.91,86.65 569.01,86.41 569.12,86.23 569.22,86.14 569.32,86.12 569.43,86.18 569.53,86.30 569.64,86.47 569.74,86.69 569.84,86.93 569.95,87.18 570.05,87.42 570.16,87.65 570.26,87.84" />
<polyline fill="none" stroke="#222" stroke-width="1" stroke-linejoin="round" stroke-linecap="round" points="591.24,88.26 591.34,87.92 591.45,87.52 591.55,87.08 591.66,86.63 591.76,86.20 591.86,85.81 591.97,85.50 592.07,85.28 592.18,85.19 592.28,85.22 592.38,85.39 592.49,85.69 592.59,86.13 592.70,86.67 592.80,87.30 592.90,87.98 593.01,88.68 593.11,89.34 593.22,89.94 593.32,90.42 593.42,90.75 593.53,90.88 593.63,90.79 593.74,90.46 593.84,89.87 593.94,89.03 594.05,87.93 594.15,86.61 594.26,85.10 594.36,83.44 594.46,81.68 594.57,79.87 594.67,78.09 594.78,76.38 594.88,74.81 594.98,73.44 595.09,72.32 595.19,71.49 595.30,70.97 595.40,70.80 595.50,70.97 595.61,71.49 595.71,72.32 595.82,73.44 595.92,74.81 596.02,76.38 596.13,78.09 596.23,79.87 596.34,81.68 596.44,83.44 596.54,85.10 596.65,86.61 596.75,87.93 596.86,89.03 596.96,89.87 597.06,90.46 597.17,90.79 597.27,90.88 597.38,90.75 597.48,90.42 597.58,89.94 597.69,89.34 597.79,88.68 597.90,87.98 598.00,87.30 598.10,86.67 598.21,86.13 598.31,85.69 598.42,85.39 598.52,85.22 598.62,85.19 598.73,85.28 598.83,85.50 598.94,85.81 599.04,86.20 599.14,86.63 599.25,87.08 599.35,87.52 599.46,87.92 599.56,88.26" />
<polyline fill="none" stroke="#222" stroke-width="1" stroke-linejoin="round" stroke-linecap="round" points="632.24,87.84 632.34,87.65 632.45,87.42 632.55,87.18 632.66,86.93 632.76,86.69 632.86,86.47 632.97,86.30 633.07,86.18 633.18,86.12 633.28,86.14 633.38,86.23 633.49,86.41 633.59,86.65 633.70,86.95 633.80,87.30 633.90,87.68 634.01,88.07 634.11,88.44 634.22,88.77 634.32,89.04 634.42,89.22 634.53,89.30 634.63,89.25 634.74,89.06 634.84,88.73 634.94,88.26 635.05,87.65 635.15,86.92 635.26,86.07 635.36,85.15 635.46,84.17 635.57,83.16 635.67,82.16 635.78,81.21 635.88,80.34 635.98,79.57 636.09,78.95 636.19,78.48 636.30,78.20 636.40,78.10 636.50,78.20 636.61,78.48 636.71,78.95 636.82,79.57 636.92,80.34 637.02,81.21 637.13,82.16 637.23,83.16 637.34,84.17 637.44,85.15 637.54,86.07 637.65,86.92 637.75,87.65 637.86,88.26 637.96,88.73 638.06,89.06 638.17,89.25 638.27,89.30 638.38,89.22 638.48,89.04 638.58,88.77 638.69,88.44 638.79,88.07 638.90,87.68 639.00,87.30 639.10,86.95 639.21,86.65 639.31,86.41 639.42,86.23 639.52,86.14 639.62,86.12 639.73,86.18 639.83,86.30 639.94,86.47 640.04,86.69 640.14,86.93 640.25,87.18 640.35,87.42 640.46,87.65 640.56,87.84" />
<polyline fill="none" stroke="#333" stroke-width="1.1" stroke-linejoin="round" stroke-linecap="round" points="457.30,106.10 458.50,102.00 481.50,102.00 482.60,106.10" />
<polyline fill="none" stroke="#333" stroke-width="1.1" stroke-linejoin="round" stroke-linecap="round" points="483.20,106.10 484.80,100.30 491.30,100.30 492.90,106.10" />
<polyline fill="none" stroke="#333" stroke-width="1.1" stroke-linejoin="round" stroke-linecap="round" points="507.20,106.10 508.80,100.30 515.60,100.30 517.20,106.10" />
<polyline fill="none" stroke="#333" stroke-width="1.1" stroke-linejoin="round" stroke-linecap="round" points="535.00,106.10 536.60,100.30 543.80,100.30 545.40,106.10" />
<polyline fill="none" stroke="#333" stroke-width="1.1" stroke-linejoin="round" stroke-linecap="round" points="561.10,106.10 562.70,100.30 569.40,100.30 571.00,106.10" />
<polyline fill="none" stroke="#333" stroke-width="1.1" stroke-linejoin="round" stroke-linecap="round" points="590.00,106.10 591.60,100.30 598.30,100.30 599.90,106.10" />
<polyline fill="none" stroke="#333" stroke-width="1.1" stroke-linejoin="round" stroke-linecap="round" points="630.60,106.10 632.20,100.30 638.60,100.30 640.20,106.10" />
<polyline fill="none" stroke="#333" stroke-width="1.1" stroke-linejoin="round" stroke-linecap="round" points="492.90,106.10 494.10,112.10 498.40,112.10 499.60,106.10" />
<polyline fill="none" stroke="#333" stroke-width="1.1" stroke-linejoin="round" stroke-linecap="round" points="517.20,106.10 518.40,112.10 522.00,112.10 523.20,106.10" />
<polyline fill="none" stroke="#333" stroke-width="1.1" stroke-linejoin="round" stroke-linecap="round" points="545.40,106.10 546.60,112.10 550.20,112.10 551.40,106.10" />
<polyline fill="none" stroke="#333" stroke-width="1.1" stroke-linejoin="round" stroke-linecap="round" points="571.00,106.10 572.20,112.10 575.80,112.10 577.00,106.10" />
<polyline fill="none" stroke="#333" stroke-width="1.1" stroke-linejoin="round" stroke-linecap="round" points="599.90,106.10 601.10,112.10 604.70,112.10 605.90,106.10" />
<polyline fill="none" stroke="#333" stroke-width="1.1" stroke-linejoin="round" stroke-linecap="round" points="640.20,106.10 641.40,112.10 645.70,112.10 646.90,106.10" />
<rect x="499.4" y="122.8" width="7.2" height="8.4" fill="#fff" stroke="#444" stroke-width="0.9"/>
<text x="503" y="129.3" font-family="Liberation Sans" font-weight="bold" font-size="6.2" fill="#333" text-anchor="middle">R</text>
<rect x="523.0" y="122.8" width="7.2" height="8.4" fill="#fff" stroke="#444" stroke-width="0.9"/>
<text x="526.6" y="129.3" font-family="Liberation Sans" font-weight="bold" font-size="6.2" fill="#333" text-anchor="middle">R</text>
<rect x="551.4" y="122.8" width="7.2" height="8.4" fill="#fff" stroke="#444" stroke-width="0.9"/>
<text x="555" y="129.3" font-family="Liberation Sans" font-weight="bold" font-size="6.2" fill="#333" text-anchor="middle">R</text>
<rect x="576.6999999999999" y="122.8" width="7.2" height="8.4" fill="#fff" stroke="#444" stroke-width="0.9"/>
<text x="580.3" y="129.3" font-family="Liberation Sans" font-weight="bold" font-size="6.2" fill="#333" text-anchor="middle">R</text>
<rect x="606.1" y="122.8" width="7.2" height="8.4" fill="#fff" stroke="#444" stroke-width="0.9"/>
<text x="609.7" y="129.3" font-family="Liberation Sans" font-weight="bold" font-size="6.2" fill="#333" text-anchor="middle">R</text>
<rect x="648.1" y="122.8" width="7.2" height="8.4" fill="#fff" stroke="#444" stroke-width="0.9"/>
<text x="651.7" y="129.3" font-family="Liberation Sans" font-weight="bold" font-size="6.2" fill="#333" text-anchor="middle">R</text>
<rect x="442.8" y="143.6" width="118.59999999999997" height="28.099999999999994" fill="none" stroke="#555" stroke-width="0.675"/>
<line x1="442.8" y1="143.6" x2="561.4" y2="143.6" stroke="#444" stroke-width="0.9750000000000001"/>
<line x1="442.8" y1="171.7" x2="561.4" y2="171.7" stroke="#333" stroke-width="0.9750000000000001"/>
<line x1="442.8" y1="143.6" x2="442.8" y2="171.7" stroke="#333" stroke-width="0.9750000000000001"/>
<line x1="466.52" y1="143.6" x2="466.52" y2="144.79999999999998" stroke="#333" stroke-width="0.8"/>
<line x1="466.52" y1="171.7" x2="466.52" y2="170.5" stroke="#333" stroke-width="0.8"/>
<line x1="490.24" y1="143.6" x2="490.24" y2="144.79999999999998" stroke="#333" stroke-width="0.8"/>
<line x1="490.24" y1="171.7" x2="490.24" y2="170.5" stroke="#333" stroke-width="0.8"/>
<line x1="513.96" y1="143.6" x2="513.96" y2="144.79999999999998" stroke="#333" stroke-width="0.8"/>
<line x1="513.96" y1="171.7" x2="513.96" y2="170.5" stroke="#333" stroke-width="0.8"/>
<line x1="537.68" y1="143.6" x2="537.68" y2="144.79999999999998" stroke="#333" stroke-width="0.8"/>
<line x1="537.68" y1="171.7" x2="537.68" y2="170.5" stroke="#333" stroke-width="0.8"/>
<line x1="442.8" y1="164.67499999999998" x2="444.0" y2="164.67499999999998" stroke="#333" stroke-width="0.8"/>
<line x1="561.4" y1="164.67499999999998" x2="560.1999999999999" y2="164.67499999999998" stroke="#333" stroke-width="0.8"/>
<line x1="442.8" y1="157.64999999999998" x2="444.0" y2="157.64999999999998" stroke="#333" stroke-width="0.8"/>
<line x1="561.4" y1="157.64999999999998" x2="560.1999999999999" y2="157.64999999999998" stroke="#333" stroke-width="0.8"/>
<line x1="442.8" y1="150.625" x2="444.0" y2="150.625" stroke="#333" stroke-width="0.8"/>
<line x1="561.4" y1="150.625" x2="560.1999999999999" y2="150.625" stroke="#333" stroke-width="0.8"/>
<polyline fill="none" stroke="#111" stroke-width="0.9" stroke-linejoin="round" stroke-linecap="round" points="442.80,168.21 443.29,167.51 443.79,166.83 444.28,166.16 444.78,165.51 445.27,164.87 445.76,164.27 446.26,163.69 446.75,163.13 447.25,162.60 447.74,162.11 448.24,161.65 448.73,161.22 449.22,160.82 449.72,160.47 450.21,160.15 450.71,159.87 451.20,159.63 451.69,159.43 452.19,159.27 452.68,159.16 453.18,159.09 453.67,159.06 454.17,159.07 454.66,159.12 455.15,159.22 455.65,159.36 456.14,159.54 456.64,159.77 457.13,160.03 457.62,160.33 458.12,160.68 458.61,161.06 459.11,161.47 459.60,161.92 460.10,162.40 460.59,162.92 461.08,163.46 461.58,164.03 462.07,164.63 462.57,165.25 463.06,165.89 463.56,166.56 464.05,167.24 464.54,167.93 465.04,168.64 465.53,169.36 466.03,170.09 466.52,170.82 467.01,171.55 467.51,170.93 468.00,169.96 468.50,169.00 468.99,168.05 469.49,167.12 469.98,166.21 470.47,165.32 470.97,164.45 471.46,163.62 471.96,162.81 472.45,162.05 472.94,161.32 473.44,160.63 473.93,159.99 474.43,159.40 474.92,158.86 475.42,158.37 475.91,157.93 476.40,157.55 476.90,157.23 477.39,156.97 477.89,156.77 478.38,156.63 478.87,156.55 479.37,156.53 479.86,156.57 480.36,156.68 480.85,156.84 481.35,157.07 481.84,157.35 482.33,157.70 482.83,158.10 483.32,158.56 483.82,159.07 484.31,159.63 484.80,160.24 485.30,160.90 485.79,161.60 486.29,162.35 486.78,163.13 487.27,163.95 487.77,164.79 488.26,165.67 488.76,166.57 489.25,167.49 489.75,168.43 490.24,169.38 490.73,170.35 491.23,171.31 491.72,170.79 492.22,169.27 492.71,167.76 493.20,166.26 493.70,164.79 494.19,163.34 494.69,161.92 495.18,160.55 495.68,159.21 496.17,157.93 496.66,156.70 497.16,155.52 497.65,154.41 498.15,153.37 498.64,152.40 499.13,151.50 499.63,150.68 500.12,149.95 500.62,149.29 501.11,148.73 501.61,148.25 502.10,147.87 502.59,147.57 503.09,147.37 503.58,147.27 504.08,147.26 504.57,147.35 505.06,147.53 505.56,147.80 506.05,148.17 506.55,148.62 507.04,149.17 507.54,149.81 508.03,150.53 508.52,151.33 509.02,152.21 509.51,153.17 510.01,154.20 510.50,155.30 511.00,156.46 511.49,157.68 511.98,158.95 512.48,160.28 512.97,161.65 513.47,163.05 513.96,164.49 514.45,165.96 514.95,167.45 515.44,168.96 515.94,170.48 516.43,171.50 516.92,170.52 517.42,169.55 517.91,168.58 518.41,167.63 518.90,166.69 519.40,165.77 519.89,164.87 520.38,164.00 520.88,163.16 521.37,162.36 521.87,161.59 522.36,160.85 522.86,160.16 523.35,159.52 523.84,158.92 524.34,158.38 524.83,157.88 525.33,157.44 525.82,157.05 526.31,156.72 526.81,156.45 527.30,156.24 527.80,156.09 528.29,155.99 528.78,155.96 529.28,155.99 529.77,156.09 530.27,156.24 530.76,156.45 531.26,156.72 531.75,157.05 532.24,157.44 532.74,157.88 533.23,158.38 533.73,158.92 534.22,159.52 534.72,160.16 535.21,160.85 535.70,161.59 536.20,162.36 536.69,163.16 537.19,164.00 537.68,164.87 538.17,165.77 538.67,166.69 539.16,167.63 539.66,168.58 540.15,169.55 540.64,170.52 541.14,171.50 541.63,171.25 542.13,170.69 542.62,170.14 543.12,169.59 543.61,169.05 544.10,168.51 544.60,167.99 545.09,167.48 545.59,166.98 546.08,166.49 546.58,166.03 547.07,165.58 547.56,165.15 548.06,164.75 548.55,164.36 549.05,164.00 549.54,163.67 550.03,163.36 550.53,163.07 551.02,162.82 551.52,162.59 552.01,162.40 552.50,162.23 553.00,162.09 553.49,161.99 553.99,161.92 554.48,161.88 554.98,161.87 555.47,161.89 555.96,161.94 556.46,162.03 556.95,162.14 557.45,162.29 557.94,162.47 558.43,162.68 558.93,162.92 559.42,163.18 559.92,163.48 560.41,163.80 560.91,164.14 561.40,164.51" />
<text x="442.8" y="175.3" font-family="Liberation Sans" font-weight="bold" font-size="3.4" fill="#555" text-anchor="middle" letter-spacing="0.51">0</text>
<text x="466.5" y="175.3" font-family="Liberation Sans" font-weight="bold" font-size="3.4" fill="#555" text-anchor="middle" letter-spacing="0.51">200</text>
<text x="490.2" y="175.3" font-family="Liberation Sans" font-weight="bold" font-size="3.4" fill="#555" text-anchor="middle" letter-spacing="0.51">400</text>
<text x="514.0" y="175.3" font-family="Liberation Sans" font-weight="bold" font-size="3.4" fill="#555" text-anchor="middle" letter-spacing="0.51">600</text>
<text x="537.7" y="175.3" font-family="Liberation Sans" font-weight="bold" font-size="3.4" fill="#555" text-anchor="middle" letter-spacing="0.51">800</text>
<text x="561.4" y="175.3" font-family="Liberation Sans" font-weight="bold" font-size="3.4" fill="#555" text-anchor="middle" letter-spacing="0.51">1000</text>
<text x="441.6" y="172.9" font-family="Liberation Sans" font-weight="bold" font-size="3.4" fill="#555" text-anchor="end" letter-spacing="0.51">0</text>
<text x="441.6" y="165.9" font-family="Liberation Sans" font-weight="bold" font-size="3.4" fill="#555" text-anchor="end" letter-spacing="0.51">20</text>
<text x="441.6" y="158.9" font-family="Liberation Sans" font-weight="bold" font-size="3.4" fill="#555" text-anchor="end" letter-spacing="0.51">40</text>
<text x="441.6" y="151.8" font-family="Liberation Sans" font-weight="bold" font-size="3.4" fill="#555" text-anchor="end" letter-spacing="0.51">60</text>
<text x="441.6" y="144.8" font-family="Liberation Sans" font-weight="bold" font-size="3.4" fill="#555" text-anchor="end" letter-spacing="0.51">80</text>
<text x="434.3" y="157.6" font-family="Liberation Sans" font-weight="bold" font-size="3.23" fill="#555" text-anchor="middle" transform="rotate(-90 434.3 157.6)">Flip angle (degree)</text>
<rect x="442.8" y="183.5" width="118.59999999999997" height="28.099999999999994" fill="none" stroke="#555" stroke-width="0.675"/>
<line x1="442.8" y1="183.5" x2="561.4" y2="183.5" stroke="#444" stroke-width="0.9750000000000001"/>
<line x1="442.8" y1="211.6" x2="561.4" y2="211.6" stroke="#333" stroke-width="0.9750000000000001"/>
<line x1="442.8" y1="183.5" x2="442.8" y2="211.6" stroke="#333" stroke-width="0.9750000000000001"/>
<line x1="466.52" y1="183.5" x2="466.52" y2="184.7" stroke="#333" stroke-width="0.8"/>
<line x1="466.52" y1="211.6" x2="466.52" y2="210.4" stroke="#333" stroke-width="0.8"/>
<line x1="490.24" y1="183.5" x2="490.24" y2="184.7" stroke="#333" stroke-width="0.8"/>
<line x1="490.24" y1="211.6" x2="490.24" y2="210.4" stroke="#333" stroke-width="0.8"/>
<line x1="513.96" y1="183.5" x2="513.96" y2="184.7" stroke="#333" stroke-width="0.8"/>
<line x1="513.96" y1="211.6" x2="513.96" y2="210.4" stroke="#333" stroke-width="0.8"/>
<line x1="537.68" y1="183.5" x2="537.68" y2="184.7" stroke="#333" stroke-width="0.8"/>
<line x1="537.68" y1="211.6" x2="537.68" y2="210.4" stroke="#333" stroke-width="0.8"/>
<line x1="442.8" y1="202.23333333333332" x2="444.0" y2="202.23333333333332" stroke="#333" stroke-width="0.8"/>
<line x1="561.4" y1="202.23333333333332" x2="560.1999999999999" y2="202.23333333333332" stroke="#333" stroke-width="0.8"/>
<line x1="442.8" y1="192.86666666666667" x2="444.0" y2="192.86666666666667" stroke="#333" stroke-width="0.8"/>
<line x1="561.4" y1="192.86666666666667" x2="560.1999999999999" y2="192.86666666666667" stroke="#333" stroke-width="0.8"/>
<path d="M442.80,196.71 C443.41,197.69 445.15,202.09 446.48,202.61 C447.80,203.12 449.22,201.95 450.75,199.80 C452.27,197.64 454.28,191.46 455.61,189.68 C456.93,187.90 457.66,188.51 458.69,189.12 C459.72,189.73 460.55,190.48 461.78,193.34 C463.00,196.19 464.94,203.83 466.05,206.26 C467.15,208.70 467.41,208.74 468.42,207.95 C469.43,207.15 470.87,203.92 472.09,201.48 C473.32,199.05 474.45,194.83 475.77,193.34 C477.10,191.84 478.72,192.12 480.04,192.49 C481.36,192.87 482.59,195.07 483.72,195.58 C484.84,196.10 485.87,196.38 486.80,195.58 C487.73,194.79 488.48,192.35 489.29,190.81 C490.10,189.26 490.85,186.50 491.66,186.31 C492.47,186.12 492.93,185.96 494.15,189.68 C495.38,193.41 497.59,205.09 499.02,208.65 C500.44,212.21 501.05,213.59 502.69,211.04 C504.33,208.49 507.12,197.08 508.86,193.34 C510.60,189.59 511.71,188.37 513.13,188.56 C514.55,188.75 515.76,191.60 517.40,194.46 C519.04,197.32 521.55,204.11 522.97,205.70 C524.40,207.29 524.63,206.59 525.94,204.01 C527.24,201.44 529.38,191.84 530.80,190.24 C532.22,188.65 533.05,191.98 534.48,194.46 C535.90,196.94 537.60,204.95 539.34,205.14 C541.08,205.32 543.47,197.08 544.91,195.58 C546.36,194.08 546.87,195.86 548.00,196.14 C549.12,196.43 550.25,197.46 551.67,197.27 C553.10,197.08 554.92,196.19 556.54,195.02 C558.16,193.85 560.59,191.04 561.40,190.24" fill="none" stroke="#111" stroke-width="0.9"/>
<text x="442.8" y="215.2" font-family="Liberation Sans" font-weight="bold" font-size="3.4" fill="#555" text-anchor="middle" letter-spacing="0.51">0</text>
<text x="466.5" y="215.2" font-family="Liberation Sans" font-weight="bold" font-size="3.4" fill="#555" text-anchor="middle" letter-spacing="0.51">200</text>
<text x="490.2" y="215.2" font-family="Liberation Sans" font-weight="bold" font-size="3.4" fill="#555" text-anchor="middle" letter-spacing="0.51">400</text>
<text x="514.0" y="215.2" font-family="Liberation Sans" font-weight="bold" font-size="3.4" fill="#555" text-anchor="middle" letter-spacing="0.51">600</text>
<text x="537.7" y="215.2" font-family="Liberation Sans" font-weight="bold" font-size="3.4" fill="#555" text-anchor="middle" letter-spacing="0.51">800</text>
<text x="561.4" y="215.2" font-family="Liberation Sans" font-weight="bold" font-size="3.4" fill="#555" text-anchor="middle" letter-spacing="0.51">1000</text>
<text x="441.6" y="212.8" font-family="Liberation Sans" font-weight="bold" font-size="3.4" fill="#555" text-anchor="end" letter-spacing="0.51">12</text>
<text x="441.6" y="203.5" font-family="Liberation Sans" font-weight="bold" font-size="3.4" fill="#555" text-anchor="end" letter-spacing="0.51">13</text>
<text x="441.6" y="194.1" font-family="Liberation Sans" font-weight="bold" font-size="3.4" fill="#555" text-anchor="end" letter-spacing="0.51">14</text>
<text x="441.6" y="184.7" font-family="Liberation Sans" font-weight="bold" font-size="3.4" fill="#555" text-anchor="end" letter-spacing="0.51">15</text>
<text x="434.3" y="197.6" font-family="Liberation Sans" font-weight="bold" font-size="3.23" fill="#555" text-anchor="middle" transform="rotate(-90 434.3 197.6)">TR (ms)</text>
<text x="502.1" y="219.4" font-family="Liberation Sans" font-weight="bold" font-size="3.4" fill="#555" text-anchor="middle" letter-spacing="0.51">#TR</text>
<rect x="578.4" y="147.8" width="77.10000000000002" height="60.0" fill="none" stroke="#333" stroke-width="1" rx="0"/>
<path d="M583.93,170.01 C584.29,172.69 583.75,181.62 586.08,186.09 C588.40,190.55 591.97,194.16 597.87,196.81 C603.76,199.45 613.94,201.95 621.45,201.95 C628.95,201.95 637.52,199.45 642.88,196.81 C648.24,194.16 651.55,189.84 653.60,186.09 C655.66,182.34 655.57,178.41 655.21,174.30 C654.85,170.19 654.05,165.01 651.46,161.44 C648.87,157.86 644.31,154.70 639.67,152.86 C635.02,151.02 629.13,150.22 623.59,150.40 C618.05,150.58 610.82,151.91 606.44,153.93 C602.07,155.95 599.12,159.47 597.33,162.51 C595.54,165.54 595.10,168.05 595.72,172.15 C596.35,176.26 596.62,183.73 601.08,187.16 C605.55,190.59 616.09,192.91 622.52,192.73 C628.95,192.55 635.92,189.34 639.67,186.09 C643.42,182.84 645.21,177.25 645.03,173.23 C644.85,169.21 642.26,164.38 638.60,161.97 C634.93,159.56 627.88,158.58 623.05,158.76 C618.23,158.94 612.69,160.63 609.66,163.04 C606.62,165.46 604.83,169.83 604.83,173.23 C604.83,176.62 606.89,181.23 609.66,183.41 C612.43,185.59 617.52,186.57 621.45,186.30 C625.38,186.03 630.70,183.89 633.24,181.80 C635.77,179.71 636.85,176.26 636.67,173.76 C636.49,171.26 634.52,168.22 632.17,166.80 C629.81,165.37 625.56,164.92 622.52,165.19 C619.48,165.46 615.73,166.97 613.94,168.40 C612.16,169.83 611.62,171.89 611.80,173.76 C611.98,175.64 613.41,178.46 615.02,179.66 C616.62,180.85 619.30,181.03 621.45,180.94 C623.59,180.85 626.36,180.32 627.88,179.12 C629.40,177.92 630.65,175.37 630.56,173.76 C630.47,172.15 628.77,170.37 627.34,169.47 C625.91,168.58 623.59,168.22 621.98,168.40 C620.38,168.58 618.59,169.65 617.70,170.55 C616.80,171.44 616.45,172.78 616.62,173.76 C616.80,174.74 617.96,175.91 618.77,176.44 C619.57,176.98 620.38,177.07 621.45,176.98 C622.52,176.89 624.39,176.44 625.20,175.91 C626.00,175.37 626.36,174.48 626.27,173.76 C626.18,173.05 625.38,172.07 624.66,171.62 C623.95,171.17 622.79,170.99 621.98,171.08 C621.18,171.17 620.25,171.71 619.84,172.15 C619.43,172.60 619.34,173.37 619.52,173.76 C619.70,174.16 620.50,174.51 620.91,174.51 C621.32,174.51 621.80,173.89 621.98,173.76" fill="none" stroke="#111" stroke-width="0.9"/>
<polyline fill="none" stroke="#111" stroke-width="0.9" stroke-linejoin="round" stroke-linecap="round" points="583.93,170.55 584.47,169.15 621.98,173.76" />
<text x="578.4" y="211.2" font-family="Liberation Sans" font-weight="bold" font-size="3.0" fill="#555" text-anchor="middle" letter-spacing="0.45">-0.8</text>
<text x="589.4" y="211.2" font-family="Liberation Sans" font-weight="bold" font-size="3.0" fill="#555" text-anchor="middle" letter-spacing="0.45">-0.6</text>
<text x="600.4" y="211.2" font-family="Liberation Sans" font-weight="bold" font-size="3.0" fill="#555" text-anchor="middle" letter-spacing="0.45">-0.4</text>
<text x="611.4" y="211.2" font-family="Liberation Sans" font-weight="bold" font-size="3.0" fill="#555" text-anchor="middle" letter-spacing="0.45">-0.2</text>
<text x="622.5" y="211.2" font-family="Liberation Sans" font-weight="bold" font-size="3.0" fill="#555" text-anchor="middle" letter-spacing="0.45">0</text>
<text x="633.5" y="211.2" font-family="Liberation Sans" font-weight="bold" font-size="3.0" fill="#555" text-anchor="middle" letter-spacing="0.45">0.2</text>
<text x="644.5" y="211.2" font-family="Liberation Sans" font-weight="bold" font-size="3.0" fill="#555" text-anchor="middle" letter-spacing="0.45">0.4</text>
<text x="655.5" y="211.2" font-family="Liberation Sans" font-weight="bold" font-size="3.0" fill="#555" text-anchor="middle" letter-spacing="0.45">0.6</text>
<text x="577.4" y="208.9" font-family="Liberation Sans" font-weight="bold" font-size="3.0" fill="#555" text-anchor="end" letter-spacing="0.45">-0.8</text>
<text x="577.4" y="200.3" font-family="Liberation Sans" font-weight="bold" font-size="3.0" fill="#555" text-anchor="end" letter-spacing="0.45">-0.6</text>
<text x="577.4" y="191.7" font-family="Liberation Sans" font-weight="bold" font-size="3.0" fill="#555" text-anchor="end" letter-spacing="0.45">-0.4</text>
<text x="577.4" y="183.2" font-family="Liberation Sans" font-weight="bold" font-size="3.0" fill="#555" text-anchor="end" letter-spacing="0.45">-0.2</text>
<text x="577.4" y="174.6" font-family="Liberation Sans" font-weight="bold" font-size="3.0" fill="#555" text-anchor="end" letter-spacing="0.45">0</text>
<text x="577.4" y="166.0" font-family="Liberation Sans" font-weight="bold" font-size="3.0" fill="#555" text-anchor="end" letter-spacing="0.45">0.2</text>
<text x="577.4" y="157.5" font-family="Liberation Sans" font-weight="bold" font-size="3.0" fill="#555" text-anchor="end" letter-spacing="0.45">0.4</text>
<text x="577.4" y="148.9" font-family="Liberation Sans" font-weight="bold" font-size="3.0" fill="#555" text-anchor="end" letter-spacing="0.45">0.6</text>
<text x="574" y="177" font-family="Liberation Sans" font-weight="bold" font-size="3.2" fill="#555">y</text>
<text x="616" y="214.5" font-family="Liberation Sans" font-weight="bold" font-size="3.2" fill="#555">x</text>
<rect x="73.9" y="437.6" width="167.1" height="40.299999999999955" fill="none" stroke="#555" stroke-width="0.9"/>
<line x1="73.9" y1="437.6" x2="241" y2="437.6" stroke="#444" stroke-width="1.3"/>
<line x1="73.9" y1="477.9" x2="241" y2="477.9" stroke="#333" stroke-width="1.3"/>
<line x1="73.9" y1="437.6" x2="73.9" y2="477.9" stroke="#333" stroke-width="1.3"/>
<line x1="107.32000000000001" y1="437.6" x2="107.32000000000001" y2="438.8" stroke="#333" stroke-width="0.8"/>
<line x1="107.32000000000001" y1="477.9" x2="107.32000000000001" y2="476.7" stroke="#333" stroke-width="0.8"/>
<line x1="140.74" y1="437.6" x2="140.74" y2="438.8" stroke="#333" stroke-width="0.8"/>
<line x1="140.74" y1="477.9" x2="140.74" y2="476.7" stroke="#333" stroke-width="0.8"/>
<line x1="174.16" y1="437.6" x2="174.16" y2="438.8" stroke="#333" stroke-width="0.8"/>
<line x1="174.16" y1="477.9" x2="174.16" y2="476.7" stroke="#333" stroke-width="0.8"/>
<line x1="207.58" y1="437.6" x2="207.58" y2="438.8" stroke="#333" stroke-width="0.8"/>
<line x1="207.58" y1="477.9" x2="207.58" y2="476.7" stroke="#333" stroke-width="0.8"/>
<line x1="73.9" y1="467.825" x2="75.10000000000001" y2="467.825" stroke="#333" stroke-width="0.8"/>
<line x1="241" y1="467.825" x2="239.8" y2="467.825" stroke="#333" stroke-width="0.8"/>
<line x1="73.9" y1="457.75" x2="75.10000000000001" y2="457.75" stroke="#333" stroke-width="0.8"/>
<line x1="241" y1="457.75" x2="239.8" y2="457.75" stroke="#333" stroke-width="0.8"/>
<line x1="73.9" y1="447.675" x2="75.10000000000001" y2="447.675" stroke="#333" stroke-width="0.8"/>
<line x1="241" y1="447.675" x2="239.8" y2="447.675" stroke="#333" stroke-width="0.8"/>
<polyline fill="none" stroke="#111" stroke-width="1.0" stroke-linejoin="round" stroke-linecap="round" points="73.90,472.90 74.60,471.90 75.29,470.91 75.99,469.95 76.69,469.02 77.38,468.11 78.08,467.24 78.77,466.41 79.47,465.61 80.17,464.85 80.86,464.14 81.56,463.48 82.26,462.87 82.95,462.30 83.65,461.79 84.34,461.33 85.04,460.93 85.74,460.59 86.43,460.30 87.13,460.08 87.83,459.91 88.52,459.81 89.22,459.77 89.91,459.78 90.61,459.86 91.31,460.01 92.00,460.21 92.70,460.47 93.40,460.79 94.09,461.17 94.79,461.60 95.48,462.09 96.18,462.63 96.88,463.23 97.57,463.87 98.27,464.57 98.97,465.30 99.66,466.08 100.36,466.90 101.05,467.76 101.75,468.65 102.45,469.57 103.14,470.52 103.84,471.50 104.53,472.50 105.23,473.51 105.93,474.54 106.62,475.59 107.32,476.63 108.02,477.69 108.71,476.79 109.41,475.40 110.11,474.03 110.80,472.67 111.50,471.33 112.19,470.02 112.89,468.74 113.59,467.50 114.28,466.31 114.98,465.15 115.68,464.05 116.37,463.01 117.07,462.03 117.76,461.11 118.46,460.26 119.16,459.48 119.85,458.78 120.55,458.16 121.25,457.61 121.94,457.15 122.64,456.78 123.33,456.48 124.03,456.28 124.73,456.17 125.42,456.14 126.12,456.20 126.81,456.35 127.51,456.59 128.21,456.92 128.90,457.33 129.60,457.82 130.30,458.40 130.99,459.05 131.69,459.79 132.38,460.59 133.08,461.47 133.78,462.41 134.47,463.42 135.17,464.49 135.87,465.61 136.56,466.78 137.26,468.00 137.96,469.25 138.65,470.54 139.35,471.87 140.04,473.21 140.74,474.58 141.44,475.96 142.13,477.34 142.83,476.59 143.53,474.41 144.22,472.24 144.92,470.10 145.61,467.98 146.31,465.91 147.01,463.88 147.70,461.90 148.40,459.99 149.09,458.15 149.79,456.38 150.49,454.70 151.18,453.11 151.88,451.61 152.58,450.22 153.27,448.93 153.97,447.76 154.67,446.70 155.36,445.76 156.06,444.95 156.75,444.27 157.45,443.72 158.15,443.30 158.84,443.01 159.54,442.86 160.24,442.85 160.93,442.97 161.63,443.23 162.32,443.62 163.02,444.15 163.72,444.81 164.41,445.59 165.11,446.50 165.81,447.54 166.50,448.69 167.20,449.95 167.89,451.32 168.59,452.80 169.29,454.37 169.98,456.04 170.68,457.79 171.38,459.62 172.07,461.52 172.77,463.48 173.46,465.50 174.16,467.57 174.86,469.67 175.55,471.81 176.25,473.97 176.94,476.15 177.64,477.62 178.34,476.21 179.03,474.81 179.73,473.43 180.43,472.06 181.12,470.71 181.82,469.39 182.51,468.11 183.21,466.86 183.91,465.66 184.60,464.50 185.30,463.39 186.00,462.34 186.69,461.36 187.39,460.43 188.09,459.58 188.78,458.79 189.48,458.08 190.17,457.45 190.87,456.89 191.57,456.42 192.26,456.03 192.96,455.73 193.66,455.51 194.35,455.38 195.05,455.33 195.74,455.38 196.44,455.51 197.14,455.73 197.83,456.03 198.53,456.42 199.22,456.89 199.92,457.45 200.62,458.08 201.31,458.79 202.01,459.58 202.71,460.43 203.40,461.36 204.10,462.34 204.79,463.39 205.49,464.50 206.19,465.66 206.88,466.86 207.58,468.11 208.28,469.39 208.97,470.71 209.67,472.06 210.37,473.43 211.06,474.81 211.76,476.21 212.45,477.62 213.15,477.26 213.85,476.46 214.54,475.66 215.24,474.87 215.94,474.09 216.63,473.33 217.33,472.58 218.02,471.84 218.72,471.13 219.42,470.43 220.11,469.77 220.81,469.12 221.50,468.51 222.20,467.93 222.90,467.38 223.59,466.86 224.29,466.38 224.99,465.93 225.68,465.53 226.38,465.16 227.07,464.84 227.77,464.56 228.47,464.32 229.16,464.12 229.86,463.97 230.56,463.87 231.25,463.81 231.95,463.80 232.64,463.83 233.34,463.91 234.04,464.03 234.73,464.20 235.43,464.41 236.13,464.66 236.82,464.96 237.52,465.30 238.22,465.68 238.91,466.11 239.61,466.56 240.30,467.06 241.00,467.59" />
<text x="73.9" y="482.5" font-family="Liberation Sans" font-weight="bold" font-size="4.4" fill="#555" text-anchor="middle" letter-spacing="0.66">0</text>
<text x="107.3" y="482.5" font-family="Liberation Sans" font-weight="bold" font-size="4.4" fill="#555" text-anchor="middle" letter-spacing="0.66">200</text>
<text x="140.7" y="482.5" font-family="Liberation Sans" font-weight="bold" font-size="4.4" fill="#555" text-anchor="middle" letter-spacing="0.66">400</text>
<text x="174.2" y="482.5" font-family="Liberation Sans" font-weight="bold" font-size="4.4" fill="#555" text-anchor="middle" letter-spacing="0.66">600</text>
<text x="207.6" y="482.5" font-family="Liberation Sans" font-weight="bold" font-size="4.4" fill="#555" text-anchor="middle" letter-spacing="0.66">800</text>
<text x="241.0" y="482.5" font-family="Liberation Sans" font-weight="bold" font-size="4.4" fill="#555" text-anchor="middle" letter-spacing="0.66">1000</text>
<text x="72.7" y="479.5" font-family="Liberation Sans" font-weight="bold" font-size="4.4" fill="#555" text-anchor="end" letter-spacing="0.66">0</text>
<text x="72.7" y="469.4" font-family="Liberation Sans" font-weight="bold" font-size="4.4" fill="#555" text-anchor="end" letter-spacing="0.66">20</text>
<text x="72.7" y="459.3" font-family="Liberation Sans" font-weight="bold" font-size="4.4" fill="#555" text-anchor="end" letter-spacing="0.66">40</text>
<text x="72.7" y="449.3" font-family="Liberation Sans" font-weight="bold" font-size="4.4" fill="#555" text-anchor="end" letter-spacing="0.66">60</text>
<text x="72.7" y="439.2" font-family="Liberation Sans" font-weight="bold" font-size="4.4" fill="#555" text-anchor="end" letter-spacing="0.66">80</text>
<text x="60.9" y="457.8" font-family="Liberation Sans" font-weight="bold" font-size="4.18" fill="#555" text-anchor="middle" transform="rotate(-90 60.9 457.8)">Flip angle (degree)</text>
<rect x="73.9" y="493.3" width="167.1" height="40.69999999999999" fill="none" stroke="#555" stroke-width="0.9"/>
<line x1="73.9" y1="493.3" x2="241" y2="493.3" stroke="#444" stroke-width="1.3"/>
<line x1="73.9" y1="534" x2="241" y2="534" stroke="#333" stroke-width="1.3"/>
<line x1="73.9" y1="493.3" x2="73.9" y2="534" stroke="#333" stroke-width="1.3"/>
<line x1="107.32000000000001" y1="493.3" x2="107.32000000000001" y2="494.5" stroke="#333" stroke-width="0.8"/>
<line x1="107.32000000000001" y1="534" x2="107.32000000000001" y2="532.8" stroke="#333" stroke-width="0.8"/>
<line x1="140.74" y1="493.3" x2="140.74" y2="494.5" stroke="#333" stroke-width="0.8"/>
<line x1="140.74" y1="534" x2="140.74" y2="532.8" stroke="#333" stroke-width="0.8"/>
<line x1="174.16" y1="493.3" x2="174.16" y2="494.5" stroke="#333" stroke-width="0.8"/>
<line x1="174.16" y1="534" x2="174.16" y2="532.8" stroke="#333" stroke-width="0.8"/>
<line x1="207.58" y1="493.3" x2="207.58" y2="494.5" stroke="#333" stroke-width="0.8"/>
<line x1="207.58" y1="534" x2="207.58" y2="532.8" stroke="#333" stroke-width="0.8"/>
<line x1="73.9" y1="520.4333333333334" x2="75.10000000000001" y2="520.4333333333334" stroke="#333" stroke-width="0.8"/>
<line x1="241" y1="520.4333333333334" x2="239.8" y2="520.4333333333334" stroke="#333" stroke-width="0.8"/>
<line x1="73.9" y1="506.8666666666667" x2="75.10000000000001" y2="506.8666666666667" stroke="#333" stroke-width="0.8"/>
<line x1="241" y1="506.8666666666667" x2="239.8" y2="506.8666666666667" stroke="#333" stroke-width="0.8"/>
<path d="M73.90,512.43 C74.76,513.85 77.21,520.23 79.08,520.98 C80.95,521.72 82.95,520.03 85.10,516.91 C87.24,513.79 90.08,504.83 91.95,502.25 C93.81,499.68 94.84,500.56 96.29,501.44 C97.74,502.32 98.91,503.41 100.64,507.55 C102.36,511.68 105.09,522.74 106.65,526.27 C108.21,529.79 108.57,529.86 109.99,528.71 C111.41,527.56 113.45,522.88 115.17,519.35 C116.90,515.82 118.49,509.72 120.35,507.55 C122.22,505.37 124.50,505.78 126.37,506.32 C128.24,506.87 129.96,510.05 131.55,510.80 C133.14,511.55 134.59,511.95 135.89,510.80 C137.20,509.65 138.26,506.12 139.40,503.88 C140.55,501.64 141.60,497.64 142.75,497.37 C143.89,497.10 144.53,496.86 146.25,502.25 C147.98,507.65 151.10,524.57 153.11,529.73 C155.11,534.88 155.97,536.88 158.29,533.19 C160.60,529.49 164.52,512.97 166.97,507.55 C169.43,502.12 170.99,500.35 172.99,500.63 C175.00,500.90 176.69,505.04 179.01,509.17 C181.32,513.31 184.85,523.15 186.86,525.45 C188.86,527.76 189.20,526.74 191.04,523.01 C192.88,519.28 195.88,505.37 197.89,503.07 C199.89,500.76 201.06,505.58 203.07,509.17 C205.07,512.77 207.47,524.37 209.92,524.64 C212.37,524.91 215.74,512.97 217.77,510.80 C219.81,508.63 220.53,511.21 222.12,511.62 C223.71,512.02 225.29,513.51 227.30,513.24 C229.30,512.97 231.87,511.68 234.15,509.99 C236.43,508.29 239.86,504.22 241.00,503.07" fill="none" stroke="#111" stroke-width="1.0"/>
<text x="73.9" y="538.6" font-family="Liberation Sans" font-weight="bold" font-size="4.4" fill="#555" text-anchor="middle" letter-spacing="0.66">0</text>
<text x="107.3" y="538.6" font-family="Liberation Sans" font-weight="bold" font-size="4.4" fill="#555" text-anchor="middle" letter-spacing="0.66">200</text>
<text x="140.7" y="538.6" font-family="Liberation Sans" font-weight="bold" font-size="4.4" fill="#555" text-anchor="middle" letter-spacing="0.66">400</text>
<text x="174.2" y="538.6" font-family="Liberation Sans" font-weight="bold" font-size="4.4" fill="#555" text-anchor="middle" letter-spacing="0.66">600</text>
<text x="207.6" y="538.6" font-family="Liberation Sans" font-weight="bold" font-size="4.4" fill="#555" text-anchor="middle" letter-spacing="0.66">800</text>
<text x="241.0" y="538.6" font-family="Liberation Sans" font-weight="bold" font-size="4.4" fill="#555" text-anchor="middle" letter-spacing="0.66">1000</text>
<text x="72.7" y="535.6" font-family="Liberation Sans" font-weight="bold" font-size="4.4" fill="#555" text-anchor="end" letter-spacing="0.66">12</text>
<text x="72.7" y="522.0" font-family="Liberation Sans" font-weight="bold" font-size="4.4" fill="#555" text-anchor="end" letter-spacing="0.66">13</text>
<text x="72.7" y="508.5" font-family="Liberation Sans" font-weight="bold" font-size="4.4" fill="#555" text-anchor="end" letter-spacing="0.66">14</text>
<text x="72.7" y="494.9" font-family="Liberation Sans" font-weight="bold" font-size="4.4" fill="#555" text-anchor="end" letter-spacing="0.66">15</text>
<text x="60.9" y="513.6" font-family="Liberation Sans" font-weight="bold" font-size="4.18" fill="#555" text-anchor="middle" transform="rotate(-90 60.9 513.6)">TR (ms)</text>
<text x="157.4" y="544.1" font-family="Liberation Sans" font-weight="bold" font-size="4.4" fill="#555" text-anchor="middle" letter-spacing="0.66">#TR</text>
<g clip-path="url(#dclip)"><polyline fill="none" stroke="#7E2F8E" stroke-width="1.0" points="286.2,449.5 286.7,441.3 287.2,435.8 287.7,431.4 288.2,427.7 288.7,424.4 289.2,421.4 289.7,418.8 290.2,416.4 290.7,414.2 291.2,412.2 291.7,410.4 292.2,408.7 292.7,407.3 293.2,405.9 293.7,404.7 294.2,403.6 294.7,402.7 295.2,401.8 295.7,401.1 296.2,400.5 296.7,400.1 297.2,399.7 297.7,399.4 298.2,399.3 298.7,399.2 299.2,399.2 299.7,399.4 300.2,399.6 300.7,400.0 301.2,400.4 301.7,400.9 302.2,401.5 302.7,402.2 303.2,403.0 303.7,403.9 304.2,404.9 304.7,405.9 305.2,407.1 305.7,408.3 306.2,409.7 306.7,411.1 307.2,412.6 307.7,414.2 308.2,415.9 308.7,417.7 309.2,419.7 309.7,421.7 310.2,423.8 310.7,426.1 311.2,428.5 311.7,431.1 312.2,433.8 312.7,436.8 313.2,440.1 313.7,443.9 314.2,448.4 314.7,455.0 315.2,445.3 315.7,438.5 316.2,433.5 316.7,429.2 317.2,425.6 317.7,422.4 318.2,419.5 318.7,416.9 319.2,414.5 319.7,412.3 320.2,410.4 320.7,408.6 321.2,406.9 321.7,405.4 322.2,404.1 322.7,402.9 323.2,401.8 323.7,400.8 324.2,400.0 324.7,399.2 325.2,398.6 325.7,398.1 326.2,397.8 326.7,397.5 327.2,397.3 327.7,397.2 328.2,397.2 328.7,397.3 329.2,397.6 329.7,397.9 330.2,398.3 330.7,398.8 331.2,399.3 331.7,400.0 332.2,400.8 332.7,401.6 333.2,402.6 333.7,403.6 334.2,404.7 334.7,405.9 335.2,407.2 335.7,408.6 336.2,410.1 336.7,411.7 337.2,413.3 337.7,415.1 338.2,416.9 338.7,418.9 339.2,421.0 339.7,423.1 340.2,425.5 340.7,427.9 341.2,430.5 341.7,433.4 342.2,436.4 342.7,439.8 343.2,443.6 343.7,448.2 344.2,454.9 344.7,444.6 345.2,437.5 345.7,432.1 346.2,427.7 346.7,423.8 347.2,420.4 347.7,417.4 348.2,414.6 348.7,412.1 349.2,409.9 349.7,407.8 350.2,405.9 350.7,404.2 351.2,402.6 351.7,401.2 352.2,399.9 352.7,398.8 353.2,397.8 353.7,397.0 354.2,396.2 354.7,395.6 355.2,395.1 355.7,394.7 356.2,394.4 356.7,394.3 357.2,394.2 357.7,394.2 358.2,394.4 358.7,394.7 359.2,395.0 359.7,395.5 360.2,396.0 360.7,396.7 361.2,397.4 361.7,398.3 362.2,399.2 362.7,400.2 363.2,401.4 363.7,402.6 364.2,403.9 364.7,405.3 365.2,406.8 365.7,408.4 366.2,410.1 366.7,411.9 367.2,413.9 367.7,415.9 368.2,418.0 368.7,420.3 369.2,422.6 369.7,425.2 370.2,427.9 370.7,430.8 371.2,433.9 371.7,437.3 372.2,441.1 372.7,445.5 373.2,451.3 373.7,449.4 374.2,441.2 374.7,435.7 375.2,431.3 375.7,427.5 376.2,424.2 376.7,421.2 377.2,418.6 377.7,416.1 378.2,413.9 378.7,411.9 379.2,410.1 379.7,408.4 380.2,406.9 380.7,405.5 381.2,404.2 381.7,403.1 382.2,402.1 382.7,401.2 383.2,400.5 383.7,399.8 384.2,399.3 384.7,398.9 385.2,398.6 385.7,398.3 386.2,398.2 386.7,398.2 387.2,398.3 387.7,398.5 388.2,398.7 388.7,399.1 389.2,399.5 389.7,400.1 390.2,400.7 390.7,401.4 391.2,402.2 391.7,403.1 392.2,404.1 392.7,405.2 393.2,406.3 393.7,407.6 394.2,408.9 394.7,410.3 395.2,411.8 395.7,413.4 396.2,415.1 396.7,416.9 397.2,418.8 397.7,420.7 398.2,422.8 398.7,425.1 399.2,427.4 399.7,429.9 400.2,432.6 400.7,435.5 401.2,438.7 401.7,442.3 402.2,446.4 402.7,451.8 403.2,450.3 403.7,442.9 404.2,438.0 404.7,434.0 405.2,430.6 405.7,427.6 406.2,424.9 406.7,422.5 407.2,420.3 407.7,418.4 408.2,416.5 408.7,414.9 409.2,413.4 409.7,412.0 410.2,410.7 410.7,409.6 411.2,408.6 411.7,407.7 412.2,406.9 412.7,406.3 413.2,405.7 413.7,405.2 414.2,404.8 414.7,404.5 415.2,404.3 415.7,404.2 416.2,404.2 416.7,404.3 417.2,404.4 417.7,404.7 418.2,405.0 418.7,405.4 419.2,405.9 419.7,406.4 420.2,407.1 420.7,407.8 421.2,408.6 421.7,409.5 422.2,410.5 422.7,411.5 423.2,412.6 423.7,413.8 424.2,415.1 424.7,416.4 425.2,417.9 425.7,419.4 426.2,421.0"/><polyline fill="none" stroke="#0072BD" stroke-width="1.0" points="286.2,451.8 286.7,445.9 287.2,441.9 287.7,438.7 288.2,435.9 288.7,433.5 289.2,431.4 289.7,429.5 290.2,427.7 290.7,426.1 291.2,424.7 291.7,423.4 292.2,422.2 292.7,421.1 293.2,420.1 293.7,419.2 294.2,418.4 294.7,417.7 295.2,417.1 295.7,416.6 296.2,416.2 296.7,415.8 297.2,415.6 297.7,415.4 298.2,415.2 298.7,415.2 299.2,415.2 299.7,415.3 300.2,415.5 300.7,415.7 301.2,416.1 301.7,416.4 302.2,416.9 302.7,417.4 303.2,418.0 303.7,418.6 304.2,419.3 304.7,420.1 305.2,421.0 305.7,421.9 306.2,422.8 306.7,423.9 307.2,425.0 307.7,426.2 308.2,427.4 308.7,428.7 309.2,430.1 309.7,431.6 310.2,433.1 310.7,434.8 311.2,436.5 311.7,438.4 312.2,440.4 312.7,442.6 313.2,445.0 313.7,447.8 314.2,451.0 314.7,455.8 315.2,447.1 315.7,441.3 316.2,436.9 316.7,433.3 317.2,430.2 317.7,427.4 318.2,424.9 318.7,422.6 319.2,420.6 319.7,418.7 320.2,417.0 320.7,415.5 321.2,414.1 321.7,412.8 322.2,411.6 322.7,410.6 323.2,409.6 323.7,408.8 324.2,408.1 324.7,407.5 325.2,406.9 325.7,406.5 326.2,406.2 326.7,405.9 327.2,405.8 327.7,405.7 328.2,405.7 328.7,405.8 329.2,406.0 329.7,406.3 330.2,406.6 330.7,407.0 331.2,407.5 331.7,408.1 332.2,408.8 332.7,409.5 333.2,410.3 333.7,411.2 334.2,412.2 334.7,413.2 335.2,414.3 335.7,415.5 336.2,416.8 336.7,418.1 337.2,419.6 337.7,421.1 338.2,422.7 338.7,424.4 339.2,426.1 339.7,428.0 340.2,430.0 340.7,432.1 341.2,434.4 341.7,436.8 342.2,439.5 342.7,442.3 343.2,445.6 343.7,449.6 344.2,455.4 344.7,444.4 345.2,437.1 345.7,431.7 346.2,427.2 346.7,423.3 347.2,419.8 347.7,416.8 348.2,414.0 348.7,411.4 349.2,409.1 349.7,407.0 350.2,405.1 350.7,403.3 351.2,401.7 351.7,400.3 352.2,399.0 352.7,397.9 353.2,396.9 353.7,396.0 354.2,395.2 354.7,394.6 355.2,394.1 355.7,393.7 356.2,393.4 356.7,393.3 357.2,393.2 357.7,393.2 358.2,393.4 358.7,393.7 359.2,394.0 359.7,394.5 360.2,395.1 360.7,395.7 361.2,396.5 361.7,397.3 362.2,398.3 362.7,399.3 363.2,400.5 363.7,401.7 364.2,403.1 364.7,404.5 365.2,406.0 365.7,407.7 366.2,409.4 366.7,411.2 367.2,413.2 367.7,415.2 368.2,417.4 368.7,419.7 369.2,422.1 369.7,424.7 370.2,427.4 370.7,430.3 371.2,433.5 371.7,437.0 372.2,440.8 372.7,445.3 373.2,451.2 373.7,450.4 374.2,443.1 374.7,438.2 375.2,434.2 375.7,430.8 376.2,427.9 376.7,425.2 377.2,422.9 377.7,420.7 378.2,418.7 378.7,416.9 379.2,415.3 379.7,413.8 380.2,412.4 380.7,411.2 381.2,410.1 381.7,409.1 382.2,408.2 382.7,407.4 383.2,406.7 383.7,406.2 384.2,405.7 384.7,405.3 385.2,405.0 385.7,404.8 386.2,404.7 386.7,404.7 387.2,404.8 387.7,404.9 388.2,405.2 388.7,405.5 389.2,405.9 389.7,406.4 390.2,406.9 390.7,407.6 391.2,408.3 391.7,409.1 392.2,410.0 392.7,410.9 393.2,411.9 393.7,413.0 394.2,414.2 394.7,415.5 395.2,416.8 395.7,418.2 396.2,419.8 396.7,421.3 397.2,423.0 397.7,424.8 398.2,426.7 398.7,428.7 399.2,430.8 399.7,433.0 400.2,435.4 400.7,438.0 401.2,440.8 401.7,444.0 402.2,447.7 402.7,452.5 403.2,452.3 403.7,446.9 404.2,443.2 404.7,440.3 405.2,437.7 405.7,435.5 406.2,433.6 406.7,431.8 407.2,430.2 407.7,428.7 408.2,427.3 408.7,426.1 409.2,425.0 409.7,424.0 410.2,423.0 410.7,422.2 411.2,421.5 411.7,420.8 412.2,420.2 412.7,419.7 413.2,419.3 413.7,418.9 414.2,418.7 414.7,418.4 415.2,418.3 415.7,418.2 416.2,418.2 416.7,418.3 417.2,418.4 417.7,418.5 418.2,418.8 418.7,419.1 419.2,419.4 419.7,419.9 420.2,420.3 420.7,420.9 421.2,421.5 421.7,422.1 422.2,422.8 422.7,423.6 423.2,424.4 423.7,425.3 424.2,426.3 424.7,427.3 425.2,428.3 425.7,429.5 426.2,430.6"/><polyline fill="none" stroke="#D95319" stroke-width="1.0" points="286.2,453.5 286.7,449.0 287.2,446.1 287.7,443.7 288.2,441.6 288.7,439.8 289.2,438.3 289.7,436.8 290.2,435.5 290.7,434.3 291.2,433.3 291.7,432.3 292.2,431.4 292.7,430.6 293.2,429.8 293.7,429.2 294.2,428.6 294.7,428.1 295.2,427.6 295.7,427.2 296.2,426.9 296.7,426.7 297.2,426.5 297.7,426.3 298.2,426.2 298.7,426.2 299.2,426.2 299.7,426.3 300.2,426.4 300.7,426.6 301.2,426.8 301.7,427.1 302.2,427.5 302.7,427.8 303.2,428.3 303.7,428.8 304.2,429.3 304.7,429.9 305.2,430.5 305.7,431.2 306.2,431.9 306.7,432.7 307.2,433.5 307.7,434.4 308.2,435.3 308.7,436.3 309.2,437.3 309.7,438.4 310.2,439.5 310.7,440.8 311.2,442.1 311.7,443.5 312.2,445.0 312.7,446.6 313.2,448.4 313.7,450.4 314.2,452.9 314.7,456.4 315.2,447.9 315.7,442.4 316.2,438.3 316.7,434.9 317.2,432.0 317.7,429.4 318.2,427.1 318.7,425.0 319.2,423.1 319.7,421.4 320.2,419.8 320.7,418.3 321.2,417.0 321.7,415.8 322.2,414.7 322.7,413.7 323.2,412.9 323.7,412.1 324.2,411.4 324.7,410.8 325.2,410.4 325.7,410.0 326.2,409.6 326.7,409.4 327.2,409.3 327.7,409.2 328.2,409.2 328.7,409.3 329.2,409.5 329.7,409.7 330.2,410.1 330.7,410.5 331.2,410.9 331.7,411.5 332.2,412.1 332.7,412.8 333.2,413.5 333.7,414.4 334.2,415.3 334.7,416.2 335.2,417.3 335.7,418.4 336.2,419.6 336.7,420.8 337.2,422.1 337.7,423.6 338.2,425.0 338.7,426.6 339.2,428.3 339.7,430.0 340.2,431.9 340.7,433.9 341.2,436.0 341.7,438.2 342.2,440.7 342.7,443.4 343.2,446.5 343.7,450.1 344.2,455.5 344.7,445.1 345.2,438.1 345.7,432.9 346.2,428.6 346.7,424.9 347.2,421.6 347.7,418.7 348.2,416.0 348.7,413.6 349.2,411.4 349.7,409.4 350.2,407.5 350.7,405.9 351.2,404.4 351.7,403.0 352.2,401.8 352.7,400.7 353.2,399.7 353.7,398.9 354.2,398.1 354.7,397.5 355.2,397.1 355.7,396.7 356.2,396.4 356.7,396.3 357.2,396.2 357.7,396.2 358.2,396.4 358.7,396.6 359.2,397.0 359.7,397.4 360.2,398.0 360.7,398.6 361.2,399.3 361.7,400.1 362.2,401.1 362.7,402.1 363.2,403.2 363.7,404.3 364.2,405.6 364.7,407.0 365.2,408.4 365.7,410.0 366.2,411.6 366.7,413.4 367.2,415.2 367.7,417.2 368.2,419.3 368.7,421.4 369.2,423.8 369.7,426.2 370.2,428.8 370.7,431.6 371.2,434.6 371.7,437.9 372.2,441.6 372.7,445.9 373.2,451.5 373.7,451.3 374.2,444.9 374.7,440.6 375.2,437.1 375.7,434.2 376.2,431.6 376.7,429.2 377.2,427.2 377.7,425.2 378.2,423.5 378.7,421.9 379.2,420.5 379.7,419.2 380.2,418.0 380.7,416.9 381.2,415.9 381.7,415.0 382.2,414.3 382.7,413.6 383.2,413.0 383.7,412.5 384.2,412.1 384.7,411.7 385.2,411.5 385.7,411.3 386.2,411.2 386.7,411.2 387.2,411.3 387.7,411.4 388.2,411.6 388.7,411.9 389.2,412.2 389.7,412.7 390.2,413.2 390.7,413.7 391.2,414.3 391.7,415.0 392.2,415.8 392.7,416.7 393.2,417.6 393.7,418.5 394.2,419.6 394.7,420.7 395.2,421.9 395.7,423.1 396.2,424.4 396.7,425.8 397.2,427.3 397.7,428.9 398.2,430.5 398.7,432.2 399.2,434.1 399.7,436.1 400.2,438.2 400.7,440.4 401.2,442.9 401.7,445.7 402.2,449.0 402.7,453.2 403.2,453.4 403.7,448.9 404.2,445.8 404.7,443.4 405.2,441.3 405.7,439.5 406.2,437.9 406.7,436.4 407.2,435.1 407.7,433.8 408.2,432.7 408.7,431.7 409.2,430.8 409.7,430.0 410.2,429.2 410.7,428.5 411.2,427.9 411.7,427.4 412.2,426.9 412.7,426.5 413.2,426.1 413.7,425.8 414.2,425.6 414.7,425.4 415.2,425.3 415.7,425.2 416.2,425.2 416.7,425.2 417.2,425.3 417.7,425.5 418.2,425.7 418.7,425.9 419.2,426.2 419.7,426.6 420.2,427.0 420.7,427.4 421.2,427.9 421.7,428.4 422.2,429.0 422.7,429.7 423.2,430.3 423.7,431.1 424.2,431.9 424.7,432.7 425.2,433.6 425.7,434.5 426.2,435.5"/><polyline fill="none" stroke="#EDB120" stroke-width="1.0" points="286.2,454.3 286.7,450.8 287.2,448.3 287.7,446.4 288.2,444.7 288.7,443.3 289.2,442.0 289.7,440.8 290.2,439.8 290.7,438.8 291.2,437.9 291.7,437.1 292.2,436.4 292.7,435.7 293.2,435.2 293.7,434.6 294.2,434.1 294.7,433.7 295.2,433.4 295.7,433.1 296.2,432.8 296.7,432.6 297.2,432.4 297.7,432.3 298.2,432.2 298.7,432.2 299.2,432.2 299.7,432.3 300.2,432.4 300.7,432.5 301.2,432.7 301.7,433.0 302.2,433.2 302.7,433.5 303.2,433.9 303.7,434.3 304.2,434.7 304.7,435.2 305.2,435.7 305.7,436.2 306.2,436.8 306.7,437.4 307.2,438.1 307.7,438.8 308.2,439.6 308.7,440.4 309.2,441.2 309.7,442.1 310.2,443.0 310.7,444.0 311.2,445.1 311.7,446.2 312.2,447.5 312.7,448.8 313.2,450.2 313.7,451.9 314.2,453.9 314.7,456.8 315.2,448.5 315.7,443.4 316.2,439.5 316.7,436.4 317.2,433.6 317.7,431.2 318.2,429.0 318.7,427.0 319.2,425.3 319.7,423.6 320.2,422.1 320.7,420.8 321.2,419.5 321.7,418.4 322.2,417.4 322.7,416.5 323.2,415.6 323.7,414.9 324.2,414.3 324.7,413.7 325.2,413.3 325.7,412.9 326.2,412.6 326.7,412.4 327.2,412.3 327.7,412.2 328.2,412.2 328.7,412.3 329.2,412.5 329.7,412.7 330.2,413.0 330.7,413.4 331.2,413.8 331.7,414.3 332.2,414.9 332.7,415.5 333.2,416.3 333.7,417.0 334.2,417.9 334.7,418.8 335.2,419.8 335.7,420.8 336.2,421.9 336.7,423.1 337.2,424.4 337.7,425.7 338.2,427.1 338.7,428.6 339.2,430.1 339.7,431.8 340.2,433.5 340.7,435.4 341.2,437.3 341.7,439.5 342.2,441.8 342.7,444.3 343.2,447.2 343.7,450.6 344.2,455.7 344.7,445.5 345.2,438.8 345.7,433.7 346.2,429.6 346.7,426.0 347.2,422.8 347.7,419.9 348.2,417.4 348.7,415.0 349.2,412.9 349.7,410.9 350.2,409.2 350.7,407.6 351.2,406.1 351.7,404.8 352.2,403.6 352.7,402.5 353.2,401.6 353.7,400.8 354.2,400.1 354.7,399.5 355.2,399.0 355.7,398.7 356.2,398.4 356.7,398.3 357.2,398.2 357.7,398.2 358.2,398.4 358.7,398.6 359.2,399.0 359.7,399.4 360.2,399.9 360.7,400.5 361.2,401.2 361.7,402.0 362.2,402.9 362.7,403.9 363.2,404.9 363.7,406.1 364.2,407.3 364.7,408.6 365.2,410.0 365.7,411.5 366.2,413.1 366.7,414.8 367.2,416.6 367.7,418.5 368.2,420.5 368.7,422.6 369.2,424.9 369.7,427.2 370.2,429.8 370.7,432.5 371.2,435.4 371.7,438.6 372.2,442.2 372.7,446.3 373.2,451.7 373.7,451.6 374.2,445.5 374.7,441.3 375.2,438.0 375.7,435.2 376.2,432.7 376.7,430.5 377.2,428.5 377.7,426.7 378.2,425.0 378.7,423.5 379.2,422.1 379.7,420.8 380.2,419.7 380.7,418.7 381.2,417.7 381.7,416.9 382.2,416.1 382.7,415.5 383.2,414.9 383.7,414.4 384.2,414.0 384.7,413.7 385.2,413.5 385.7,413.3 386.2,413.2 386.7,413.2 387.2,413.3 387.7,413.4 388.2,413.6 388.7,413.9 389.2,414.2 389.7,414.6 390.2,415.1 390.7,415.6 391.2,416.2 391.7,416.9 392.2,417.6 392.7,418.4 393.2,419.3 393.7,420.2 394.2,421.2 394.7,422.3 395.2,423.4 395.7,424.6 396.2,425.9 396.7,427.2 397.2,428.6 397.7,430.1 398.2,431.7 398.7,433.4 399.2,435.1 399.7,437.0 400.2,439.0 400.7,441.2 401.2,443.6 401.7,446.3 402.2,449.4 402.7,453.4 403.2,453.7 403.7,449.4 404.2,446.6 404.7,444.3 405.2,442.3 405.7,440.6 406.2,439.1 406.7,437.7 407.2,436.5 407.7,435.3 408.2,434.3 408.7,433.3 409.2,432.5 409.7,431.7 410.2,431.0 410.7,430.3 411.2,429.7 411.7,429.2 412.2,428.8 412.7,428.4 413.2,428.0 413.7,427.8 414.2,427.6 414.7,427.4 415.2,427.3 415.7,427.2 416.2,427.2 416.7,427.2 417.2,427.3 417.7,427.5 418.2,427.7 418.7,427.9 419.2,428.2 419.7,428.5 420.2,428.9 420.7,429.3 421.2,429.7 421.7,430.2 422.2,430.8 422.7,431.4 423.2,432.0 423.7,432.7 424.2,433.4 424.7,434.2 425.2,435.0 425.7,435.9 426.2,436.8"/><polyline fill="none" stroke="#77AC30" stroke-width="1.0" points="286.2,455.8 286.7,453.6 287.2,452.1 287.7,450.9 288.2,449.9 288.7,449.0 289.2,448.2 289.7,447.5 290.2,446.9 290.7,446.3 291.2,445.7 291.7,445.2 292.2,444.8 292.7,444.4 293.2,444.0 293.7,443.7 294.2,443.4 294.7,443.1 295.2,442.9 295.7,442.7 296.2,442.6 296.7,442.4 297.2,442.3 297.7,442.3 298.2,442.2 298.7,442.2 299.2,442.2 299.7,442.2 300.2,442.3 300.7,442.4 301.2,442.5 301.7,442.7 302.2,442.8 302.7,443.0 303.2,443.2 303.7,443.5 304.2,443.7 304.7,444.0 305.2,444.3 305.7,444.7 306.2,445.0 306.7,445.4 307.2,445.8 307.7,446.3 308.2,446.7 308.7,447.2 309.2,447.7 309.7,448.3 310.2,448.9 310.7,449.5 311.2,450.1 311.7,450.8 312.2,451.6 312.7,452.4 313.2,453.3 313.7,454.3 314.2,455.5 314.7,457.3 315.2,449.8 315.7,445.3 316.2,442.0 316.7,439.2 317.2,436.8 317.7,434.7 318.2,432.8 318.7,431.1 319.2,429.5 319.7,428.1 320.2,426.8 320.7,425.6 321.2,424.6 321.7,423.6 322.2,422.7 322.7,421.9 323.2,421.2 323.7,420.6 324.2,420.0 324.7,419.5 325.2,419.1 325.7,418.8 326.2,418.6 326.7,418.4 327.2,418.3 327.7,418.2 328.2,418.2 328.7,418.3 329.2,418.4 329.7,418.6 330.2,418.9 330.7,419.2 331.2,419.6 331.7,420.0 332.2,420.6 332.7,421.1 333.2,421.7 333.7,422.4 334.2,423.1 334.7,423.9 335.2,424.8 335.7,425.7 336.2,426.7 336.7,427.7 337.2,428.8 337.7,429.9 338.2,431.1 338.7,432.4 339.2,433.8 339.7,435.2 340.2,436.7 340.7,438.3 341.2,440.1 341.7,441.9 342.2,443.9 342.7,446.1 343.2,448.6 343.7,451.6 344.2,456.0 344.7,446.1 345.2,439.7 345.7,435.0 346.2,431.0 346.7,427.6 347.2,424.6 347.7,421.9 348.2,419.4 348.7,417.2 349.2,415.2 349.7,413.3 350.2,411.6 350.7,410.1 351.2,408.7 351.7,407.4 352.2,406.3 352.7,405.3 353.2,404.4 353.7,403.7 354.2,403.0 354.7,402.4 355.2,402.0 355.7,401.6 356.2,401.4 356.7,401.3 357.2,401.2 357.7,401.2 358.2,401.4 358.7,401.6 359.2,401.9 359.7,402.3 360.2,402.8 360.7,403.4 361.2,404.1 361.7,404.8 362.2,405.7 362.7,406.6 363.2,407.6 363.7,408.7 364.2,409.9 364.7,411.1 365.2,412.5 365.7,413.9 366.2,415.4 366.7,417.0 367.2,418.7 367.7,420.5 368.2,422.4 368.7,424.4 369.2,426.5 369.7,428.8 370.2,431.2 370.7,433.8 371.2,436.5 371.7,439.6 372.2,443.0 372.7,446.9 373.2,452.1 373.7,452.1 374.2,446.3 374.7,442.5 375.2,439.4 375.7,436.7 376.2,434.4 376.7,432.3 377.2,430.5 377.7,428.8 378.2,427.2 378.7,425.8 379.2,424.5 379.7,423.3 380.2,422.3 380.7,421.3 381.2,420.4 381.7,419.6 382.2,418.9 382.7,418.3 383.2,417.8 383.7,417.3 384.2,417.0 384.7,416.7 385.2,416.5 385.7,416.3 386.2,416.2 386.7,416.2 387.2,416.3 387.7,416.4 388.2,416.6 388.7,416.8 389.2,417.1 389.7,417.5 390.2,417.9 390.7,418.5 391.2,419.0 391.7,419.6 392.2,420.3 392.7,421.1 393.2,421.9 393.7,422.7 394.2,423.7 394.7,424.7 395.2,425.7 395.7,426.8 396.2,428.0 396.7,429.3 397.2,430.6 397.7,432.0 398.2,433.5 398.7,435.0 399.2,436.7 399.7,438.4 400.2,440.3 400.7,442.3 401.2,444.6 401.7,447.0 402.2,449.9 402.7,453.7 403.2,454.0 403.7,450.0 404.2,447.3 404.7,445.2 405.2,443.4 405.7,441.8 406.2,440.3 406.7,439.0 407.2,437.9 407.7,436.8 408.2,435.8 408.7,434.9 409.2,434.1 409.7,433.4 410.2,432.7 410.7,432.1 411.2,431.6 411.7,431.1 412.2,430.7 412.7,430.3 413.2,430.0 413.7,429.7 414.2,429.5 414.7,429.4 415.2,429.3 415.7,429.2 416.2,429.2 416.7,429.2 417.2,429.3 417.7,429.5 418.2,429.6 418.7,429.8 419.2,430.1 419.7,430.4 420.2,430.8 420.7,431.1 421.2,431.6 421.7,432.0 422.2,432.6 422.7,433.1 423.2,433.7 423.7,434.4 424.2,435.0 424.7,435.8 425.2,436.5 425.7,437.4 426.2,438.2"/><polyline fill="none" stroke="#A2142F" stroke-width="1.0" points="286.2,456.7 286.7,455.3 287.2,454.4 287.7,453.7 288.2,453.0 288.7,452.5 289.2,452.0 289.7,451.5 290.2,451.1 290.7,450.7 291.2,450.4 291.7,450.1 292.2,449.8 292.7,449.6 293.2,449.3 293.7,449.1 294.2,448.9 294.7,448.8 295.2,448.6 295.7,448.5 296.2,448.4 296.7,448.3 297.2,448.3 297.7,448.2 298.2,448.2 298.7,448.2 299.2,448.2 299.7,448.2 300.2,448.3 300.7,448.3 301.2,448.4 301.7,448.5 302.2,448.6 302.7,448.7 303.2,448.8 303.7,449.0 304.2,449.2 304.7,449.3 305.2,449.5 305.7,449.7 306.2,450.0 306.7,450.2 307.2,450.5 307.7,450.7 308.2,451.0 308.7,451.3 309.2,451.7 309.7,452.0 310.2,452.4 310.7,452.8 311.2,453.2 311.7,453.6 312.2,454.1 312.7,454.6 313.2,455.1 313.7,455.8 314.2,456.5 314.7,457.7 315.2,452.5 315.7,449.5 316.2,447.2 316.7,445.4 317.2,443.8 317.7,442.3 318.2,441.1 318.7,439.9 319.2,438.9 319.7,437.9 320.2,437.0 320.7,436.2 321.2,435.5 321.7,434.8 322.2,434.2 322.7,433.7 323.2,433.2 323.7,432.8 324.2,432.4 324.7,432.1 325.2,431.8 325.7,431.6 326.2,431.4 326.7,431.3 327.2,431.2 327.7,431.2 328.2,431.2 328.7,431.3 329.2,431.4 329.7,431.5 330.2,431.7 330.7,431.9 331.2,432.1 331.7,432.4 332.2,432.8 332.7,433.2 333.2,433.6 333.7,434.0 334.2,434.5 334.7,435.1 335.2,435.6 335.7,436.3 336.2,436.9 336.7,437.6 337.2,438.3 337.7,439.1 338.2,439.9 338.7,440.8 339.2,441.7 339.7,442.7 340.2,443.7 340.7,444.8 341.2,446.0 341.7,447.2 342.2,448.6 342.7,450.0 343.2,451.7 343.7,453.8 344.2,456.7 344.7,448.9 345.2,443.9 345.7,440.3 346.2,437.2 346.7,434.6 347.2,432.2 347.7,430.1 348.2,428.3 348.7,426.5 349.2,425.0 349.7,423.5 350.2,422.2 350.7,421.1 351.2,420.0 351.7,419.0 352.2,418.1 352.7,417.4 353.2,416.7 353.7,416.1 354.2,415.6 354.7,415.2 355.2,414.8 355.7,414.5 356.2,414.4 356.7,414.2 357.2,414.2 357.7,414.2 358.2,414.3 358.7,414.5 359.2,414.8 359.7,415.1 360.2,415.5 360.7,415.9 361.2,416.4 361.7,417.0 362.2,417.6 362.7,418.4 363.2,419.1 363.7,420.0 364.2,420.9 364.7,421.9 365.2,422.9 365.7,424.0 366.2,425.2 366.7,426.4 367.2,427.7 367.7,429.1 368.2,430.6 368.7,432.1 369.2,433.8 369.7,435.5 370.2,437.4 370.7,439.3 371.2,441.5 371.7,443.8 372.2,446.4 372.7,449.5 373.2,453.5 373.7,453.2 374.2,448.6 374.7,445.5 375.2,443.0 375.7,440.8 376.2,438.9 376.7,437.3 377.2,435.7 377.7,434.4 378.2,433.1 378.7,432.0 379.2,430.9 379.7,430.0 380.2,429.1 380.7,428.3 381.2,427.6 381.7,427.0 382.2,426.4 382.7,425.9 383.2,425.5 383.7,425.1 384.2,424.8 384.7,424.6 385.2,424.4 385.7,424.3 386.2,424.2 386.7,424.2 387.2,424.2 387.7,424.3 388.2,424.5 388.7,424.7 389.2,425.0 389.7,425.3 390.2,425.6 390.7,426.0 391.2,426.5 391.7,427.0 392.2,427.5 392.7,428.1 393.2,428.8 393.7,429.5 394.2,430.3 394.7,431.1 395.2,431.9 395.7,432.8 396.2,433.8 396.7,434.8 397.2,435.8 397.7,437.0 398.2,438.2 398.7,439.4 399.2,440.8 399.7,442.2 400.2,443.7 400.7,445.4 401.2,447.2 401.7,449.2 402.2,451.5 402.7,454.6 403.2,454.5 403.7,451.1 404.2,448.8 404.7,447.0 405.2,445.4 405.7,444.0 406.2,442.8 406.7,441.7 407.2,440.7 407.7,439.8 408.2,438.9 408.7,438.1 409.2,437.4 409.7,436.8 410.2,436.2 410.7,435.7 411.2,435.2 411.7,434.8 412.2,434.5 412.7,434.2 413.2,433.9 413.7,433.7 414.2,433.5 414.7,433.4 415.2,433.3 415.7,433.2 416.2,433.2 416.7,433.2 417.2,433.3 417.7,433.4 418.2,433.6 418.7,433.8 419.2,434.0 419.7,434.2 420.2,434.5 420.7,434.9 421.2,435.2 421.7,435.7 422.2,436.1 422.7,436.6 423.2,437.1 423.7,437.6 424.2,438.2 424.7,438.9 425.2,439.5 425.7,440.2 426.2,441.0"/><polyline fill="none" stroke="#D95319" stroke-width="1.0" points="286.2,456.1 286.7,454.2 287.2,452.9 287.7,451.8 288.2,451.0 288.7,450.2 289.2,449.5 289.7,448.8 290.2,448.3 290.7,447.8 291.2,447.3 291.7,446.9 292.2,446.5 292.7,446.1 293.2,445.8 293.7,445.5 294.2,445.2 294.7,445.0 295.2,444.8 295.7,444.7 296.2,444.5 296.7,444.4 297.2,444.3 297.7,444.3 298.2,444.2 298.7,444.2 299.2,444.2 299.7,444.2 300.2,444.3 300.7,444.4 301.2,444.5 301.7,444.6 302.2,444.7 302.7,444.9 303.2,445.1 303.7,445.3 304.2,445.5 304.7,445.8 305.2,446.1 305.7,446.4 306.2,446.7 306.7,447.0 307.2,447.4 307.7,447.8 308.2,448.2 308.7,448.6 309.2,449.1 309.7,449.5 310.2,450.0 310.7,450.6 311.2,451.1 311.7,451.8 312.2,452.4 312.7,453.1 313.2,453.9 313.7,454.8 314.2,455.9 314.7,457.4 315.2,450.8 315.7,446.9 316.2,444.0 316.7,441.6 317.2,439.5 317.7,437.7 318.2,436.0 318.7,434.5 319.2,433.1 319.7,431.9 320.2,430.8 320.7,429.7 321.2,428.8 321.7,427.9 322.2,427.1 322.7,426.4 323.2,425.8 323.7,425.3 324.2,424.8 324.7,424.4 325.2,424.0 325.7,423.7 326.2,423.5 326.7,423.4 327.2,423.2 327.7,423.2 328.2,423.2 328.7,423.3 329.2,423.4 329.7,423.6 330.2,423.8 330.7,424.1 331.2,424.4 331.7,424.8 332.2,425.3 332.7,425.7 333.2,426.3 333.7,426.9 334.2,427.5 334.7,428.2 335.2,429.0 335.7,429.8 336.2,430.6 336.7,431.5 337.2,432.4 337.7,433.5 338.2,434.5 338.7,435.6 339.2,436.8 339.7,438.1 340.2,439.4 340.7,440.8 341.2,442.3 341.7,443.9 342.2,445.7 342.7,447.6 343.2,449.8 343.7,452.4 344.2,456.3 344.7,447.2 345.2,441.3 345.7,437.0 346.2,433.4 346.7,430.3 347.2,427.5 347.7,425.0 348.2,422.8 348.7,420.8 349.2,418.9 349.7,417.2 350.2,415.7 350.7,414.3 351.2,413.0 351.7,411.9 352.2,410.9 352.7,409.9 353.2,409.1 353.7,408.4 354.2,407.8 354.7,407.3 355.2,406.9 355.7,406.6 356.2,406.4 356.7,406.2 357.2,406.2 357.7,406.2 358.2,406.4 358.7,406.6 359.2,406.9 359.7,407.2 360.2,407.7 360.7,408.2 361.2,408.8 361.7,409.5 362.2,410.3 362.7,411.1 363.2,412.0 363.7,413.0 364.2,414.1 364.7,415.2 365.2,416.5 365.7,417.8 366.2,419.2 366.7,420.6 367.2,422.2 367.7,423.8 368.2,425.5 368.7,427.4 369.2,429.3 369.7,431.4 370.2,433.6 370.7,435.9 371.2,438.4 371.7,441.2 372.2,444.3 372.7,447.9 373.2,452.6 373.7,452.8 374.2,447.7 374.7,444.3 375.2,441.6 375.7,439.3 376.2,437.2 376.7,435.4 377.2,433.8 377.7,432.3 378.2,430.9 378.7,429.7 379.2,428.5 379.7,427.5 380.2,426.5 380.7,425.7 381.2,424.9 381.7,424.2 382.2,423.6 382.7,423.1 383.2,422.6 383.7,422.2 384.2,421.9 384.7,421.6 385.2,421.4 385.7,421.3 386.2,421.2 386.7,421.2 387.2,421.3 387.7,421.4 388.2,421.5 388.7,421.7 389.2,422.0 389.7,422.4 390.2,422.7 390.7,423.2 391.2,423.7 391.7,424.2 392.2,424.8 392.7,425.5 393.2,426.2 393.7,427.0 394.2,427.8 394.7,428.7 395.2,429.6 395.7,430.6 396.2,431.6 396.7,432.7 397.2,433.9 397.7,435.1 398.2,436.4 398.7,437.8 399.2,439.2 399.7,440.8 400.2,442.4 400.7,444.2 401.2,446.2 401.7,448.4 402.2,450.9 402.7,454.2 403.2,454.3 403.7,450.6 404.2,448.1 404.7,446.1 405.2,444.4 405.7,442.9 406.2,441.6 406.7,440.4 407.2,439.3 407.7,438.3 408.2,437.4 408.7,436.5 409.2,435.8 409.7,435.1 410.2,434.5 410.7,433.9 411.2,433.4 411.7,433.0 412.2,432.6 412.7,432.2 413.2,431.9 413.7,431.7 414.2,431.5 414.7,431.4 415.2,431.3 415.7,431.2 416.2,431.2 416.7,431.2 417.2,431.3 417.7,431.4 418.2,431.6 418.7,431.8 419.2,432.0 419.7,432.3 420.2,432.6 420.7,433.0 421.2,433.4 421.7,433.9 422.2,434.3 422.7,434.9 423.2,435.4 423.7,436.0 424.2,436.6 424.7,437.3 425.2,438.0 425.7,438.8 426.2,439.6"/><polyline fill="none" stroke="#0072BD" stroke-width="1.0" points="286.2,457.0 286.7,455.9 287.2,455.2 287.7,454.6 288.2,454.1 288.7,453.6 289.2,453.2 289.7,452.9 290.2,452.5 290.7,452.2 291.2,452.0 291.7,451.7 292.2,451.5 292.7,451.3 293.2,451.1 293.7,450.9 294.2,450.8 294.7,450.7 295.2,450.6 295.7,450.5 296.2,450.4 296.7,450.3 297.2,450.3 297.7,450.2 298.2,450.2 298.7,450.2 299.2,450.2 299.7,450.2 300.2,450.3 300.7,450.3 301.2,450.4 301.7,450.4 302.2,450.5 302.7,450.6 303.2,450.7 303.7,450.8 304.2,451.0 304.7,451.1 305.2,451.3 305.7,451.4 306.2,451.6 306.7,451.8 307.2,452.0 307.7,452.2 308.2,452.5 308.7,452.7 309.2,453.0 309.7,453.2 310.2,453.5 310.7,453.8 311.2,454.2 311.7,454.5 312.2,454.9 312.7,455.3 313.2,455.7 313.7,456.3 314.2,456.9 314.7,457.8 315.2,451.9 315.7,448.5 316.2,446.0 316.7,444.0 317.2,442.2 317.7,440.6 318.2,439.2 318.7,437.9 319.2,436.7 319.7,435.6 320.2,434.7 320.7,433.8 321.2,433.0 321.7,432.2 322.2,431.6 322.7,431.0 323.2,430.4 323.7,430.0 324.2,429.6 324.7,429.2 325.2,428.9 325.7,428.7 326.2,428.5 326.7,428.3 327.2,428.2 327.7,428.2 328.2,428.2 328.7,428.3 329.2,428.4 329.7,428.5 330.2,428.7 330.7,429.0 331.2,429.3 331.7,429.6 332.2,430.0 332.7,430.4 333.2,430.8 333.7,431.4 334.2,431.9 334.7,432.5 335.2,433.1 335.7,433.8 336.2,434.5 336.7,435.3 337.2,436.1 337.7,437.0 338.2,437.9 338.7,438.9 339.2,439.9 339.7,441.0 340.2,442.1 340.7,443.3 341.2,444.6 341.7,446.0 342.2,447.5 342.7,449.1 343.2,451.0 343.7,453.3 344.2,456.6 344.7,445.9 345.2,439.4 345.7,434.5 346.2,430.5 346.7,427.1 347.2,424.0 347.7,421.2 348.2,418.7 348.7,416.5 349.2,414.4 349.7,412.5 350.2,410.8 350.7,409.2 351.2,407.8 351.7,406.5 352.2,405.4 352.7,404.4 353.2,403.5 353.7,402.7 354.2,402.0 354.7,401.5 355.2,401.0 355.7,400.7 356.2,400.4 356.7,400.3 357.2,400.2 357.7,400.2 358.2,400.4 358.7,400.6 359.2,400.9 359.7,401.4 360.2,401.9 360.7,402.4 361.2,403.1 361.7,403.9 362.2,404.7 362.7,405.7 363.2,406.7 363.7,407.8 364.2,409.0 364.7,410.3 365.2,411.7 365.7,413.1 366.2,414.6 366.7,416.3 367.2,418.0 367.7,419.8 368.2,421.8 368.7,423.8 369.2,426.0 369.7,428.3 370.2,430.7 370.7,433.3 371.2,436.2 371.7,439.2 372.2,442.7 372.7,446.7 373.2,452.0 373.7,451.0 374.2,444.4 374.7,439.8 375.2,436.2 375.7,433.1 376.2,430.4 376.7,428.0 377.2,425.8 377.7,423.8 378.2,422.0 378.7,420.4 379.2,418.9 379.7,417.5 380.2,416.3 380.7,415.1 381.2,414.1 381.7,413.2 382.2,412.4 382.7,411.7 383.2,411.1 383.7,410.5 384.2,410.1 384.7,409.8 385.2,409.5 385.7,409.3 386.2,409.2 386.7,409.2 387.2,409.3 387.7,409.4 388.2,409.6 388.7,409.9 389.2,410.3 389.7,410.7 390.2,411.2 390.7,411.8 391.2,412.5 391.7,413.2 392.2,414.0 392.7,414.9 393.2,415.8 393.7,416.8 394.2,417.9 394.7,419.1 395.2,420.3 395.7,421.6 396.2,423.0 396.7,424.4 397.2,426.0 397.7,427.6 398.2,429.3 398.7,431.1 399.2,433.1 399.7,435.1 400.2,437.3 400.7,439.7 401.2,442.3 401.7,445.2 402.2,448.6 402.7,453.0 403.2,452.8 403.7,447.7 404.2,444.3 404.7,441.6 405.2,439.3 405.7,437.2 406.2,435.4 406.7,433.8 407.2,432.3 407.7,430.9 408.2,429.7 408.7,428.5 409.2,427.5 409.7,426.5 410.2,425.7 410.7,424.9 411.2,424.2 411.7,423.6 412.2,423.1 412.7,422.6 413.2,422.2 413.7,421.9 414.2,421.6 414.7,421.4 415.2,421.3 415.7,421.2 416.2,421.2 416.7,421.3 417.2,421.4 417.7,421.5 418.2,421.7 418.7,422.0 419.2,422.4 419.7,422.7 420.2,423.2 420.7,423.7 421.2,424.2 421.7,424.8 422.2,425.5 422.7,426.2 423.2,427.0 423.7,427.8 424.2,428.7 424.7,429.6 425.2,430.6 425.7,431.6 426.2,432.7"/><path d="M358,399 Q364,396 367,402 Q371,410 373.5,458" fill="none" stroke="#7E2F8E" stroke-width="0.85"/><path d="M314.80,458.00 C315.33,455.00 316.67,443.50 318.00,440.00 C319.33,436.50 321.13,436.33 322.80,437.00 C324.47,437.67 326.13,442.17 328.00,444.00 C329.87,445.83 332.00,447.00 334.00,448.00 C336.00,449.00 338.28,448.33 340.00,450.00 C341.72,451.67 343.13,461.33 344.30,458.00 C345.47,454.67 346.05,437.17 347.00,430.00 C347.95,422.83 348.83,415.83 350.00,415.00 C351.17,414.17 352.67,420.67 354.00,425.00 C355.33,429.33 356.33,437.83 358.00,441.00 C359.67,444.17 362.00,443.17 364.00,444.00 C366.00,444.83 368.42,443.67 370.00,446.00 C371.58,448.33 372.33,459.00 373.50,458.00 C374.67,457.00 375.75,444.67 377.00,440.00 C378.25,435.33 379.50,430.50 381.00,430.00 C382.50,429.50 384.17,434.83 386.00,437.00 C387.83,439.17 390.00,441.50 392.00,443.00 C394.00,444.50 396.17,443.50 398.00,446.00 C399.83,448.50 401.50,459.00 403.00,458.00 C404.50,457.00 405.50,444.00 407.00,440.00 C408.50,436.00 410.17,434.00 412.00,434.00 C413.83,434.00 415.67,438.33 418.00,440.00 C420.33,441.67 424.67,443.33 426.00,444.00" fill="none" stroke="#4DBEEE" stroke-width="0.85"/><path d="M344.30,458.00 C344.75,455.00 346.05,443.83 347.00,440.00 C347.95,436.17 348.67,434.17 350.00,435.00 C351.33,435.83 353.00,442.33 355.00,445.00 C357.00,447.67 359.50,450.00 362.00,451.00 C364.50,452.00 368.08,449.83 370.00,451.00 C371.92,452.17 372.17,459.00 373.50,458.00 C374.83,457.00 376.25,446.83 378.00,445.00 C379.75,443.17 381.67,446.00 384.00,447.00 C386.33,448.00 389.33,450.17 392.00,451.00 C394.67,451.83 398.17,450.83 400.00,452.00 C401.83,453.17 401.67,459.17 403.00,458.00 C404.33,456.83 406.17,447.83 408.00,445.00 C409.83,442.17 412.00,441.17 414.00,441.00 C416.00,440.83 418.00,443.17 420.00,444.00 C422.00,444.83 425.00,445.67 426.00,446.00" fill="none" stroke="#0072BD" stroke-width="0.85"/><path d="M286.50,430.00 C286.92,429.17 288.08,423.33 289.00,425.00 C289.92,426.67 291.00,438.83 292.00,440.00 C293.00,441.17 294.00,430.33 295.00,432.00 C296.00,433.67 297.00,447.83 298.00,450.00 C299.00,452.17 300.00,443.67 301.00,445.00 C302.00,446.33 303.50,455.83 304.00,458.00" fill="none" stroke="#EDB120" stroke-width="0.85"/><path d="M286.50,440.00 C286.92,438.67 288.08,430.83 289.00,432.00 C289.92,433.17 291.00,446.00 292.00,447.00 C293.00,448.00 294.00,436.67 295.00,438.00 C296.00,439.33 296.83,453.33 298.00,455.00 C299.17,456.67 300.67,447.50 302.00,448.00 C303.33,448.50 305.33,456.33 306.00,458.00" fill="none" stroke="#D95319" stroke-width="0.85"/><path d="M286.50,450.00 C287.08,448.00 288.75,437.67 290.00,438.00 C291.25,438.33 292.67,451.33 294.00,452.00 C295.33,452.67 296.67,442.00 298.00,442.00 C299.33,442.00 300.67,451.17 302.00,452.00 C303.33,452.83 304.67,447.33 306.00,447.00 C307.33,446.67 308.53,448.17 310.00,450.00 C311.47,451.83 314.00,456.67 314.80,458.00" fill="none" stroke="#77AC30" stroke-width="0.85"/><path d="M286.50,455.00 C287.08,453.33 288.92,444.50 290.00,445.00 C291.08,445.50 291.83,457.83 293.00,458.00 C294.17,458.17 295.83,446.50 297.00,446.00 C298.17,445.50 298.83,454.33 300.00,455.00 C301.17,455.67 302.33,450.50 304.00,450.00 C305.67,449.50 308.20,450.67 310.00,452.00 C311.80,453.33 314.00,457.00 314.80,458.00" fill="none" stroke="#0072BD" stroke-width="0.85"/><path d="M286.50,458.00 C286.75,455.83 287.42,449.67 288.00,445.00 C288.58,440.33 289.33,434.50 290.00,430.00 C290.67,425.50 291.67,420.00 292.00,418.00" fill="none" stroke="#7E2F8E" stroke-width="0.85"/></g>
<rect x="610.7" y="385.2" width="93.69999999999993" height="77.60000000000002" fill="none" stroke="#aaa" stroke-width="0.7"/>
<line x1="610.7" y1="462.8" x2="704.4" y2="462.8" stroke="#777" stroke-width="0.9"/>
<line x1="610.7" y1="385.2" x2="610.7" y2="462.8" stroke="#777" stroke-width="0.9"/>
<path d="M614.45,385.20 C614.76,390.11 615.70,406.67 616.32,414.69 C616.95,422.71 617.57,427.88 618.20,433.31 C618.82,438.74 619.45,443.66 620.07,447.28 C620.69,450.90 621.32,453.10 621.94,455.04 C622.57,456.98 623.19,458.01 623.82,458.92 C624.44,459.83 624.75,460.21 625.69,460.47 C626.63,460.73 628.19,460.34 629.44,460.47 C630.69,460.60 631.94,461.51 633.19,461.25 C634.44,460.99 635.69,458.92 636.94,458.92 C638.19,458.92 639.43,460.73 640.68,461.25 C641.93,461.77 642.56,461.89 644.43,462.02 C646.31,462.15 648.80,462.15 651.93,462.02 C655.05,461.89 660.05,461.18 663.17,461.25 C666.30,461.31 663.80,462.19 670.67,462.41 C677.54,462.63 698.78,462.54 704.40,462.57" fill="none" stroke="#000" stroke-width="1.0"/>
<path d="M614.45,385.20 C614.76,390.37 615.70,406.54 616.32,416.24 C616.95,425.94 617.57,436.93 618.20,443.40 C618.82,449.87 619.45,452.45 620.07,455.04 C620.69,457.63 621.32,457.89 621.94,458.92 C622.57,459.95 623.19,460.73 623.82,461.25 C624.44,461.77 624.13,462.02 625.69,462.02 C627.25,462.02 630.69,461.25 633.19,461.25 C635.69,461.25 636.94,461.89 640.68,462.02 C644.43,462.15 650.68,461.96 655.68,462.02 C660.67,462.09 662.55,462.32 670.67,462.41 C678.79,462.50 698.78,462.54 704.40,462.57" fill="none" stroke="#f00" stroke-width="1.0"/>
<path d="M614.45,385.20 C614.76,388.82 615.70,399.81 616.32,406.93 C616.95,414.04 617.57,422.06 618.20,427.88 C618.82,433.70 619.45,437.58 620.07,441.85 C620.69,446.12 621.32,450.51 621.94,453.49 C622.57,456.46 623.19,458.14 623.82,459.70 C624.44,461.25 625.00,462.54 625.69,462.80 C626.38,463.06 627.32,461.77 627.94,461.25 C628.57,460.73 628.88,459.70 629.44,459.70 C630.00,459.70 630.69,460.99 631.31,461.25 C631.94,461.51 631.63,461.12 633.19,461.25 C634.75,461.38 636.94,461.89 640.68,462.02 C644.43,462.15 645.06,461.93 655.68,462.02 C666.30,462.11 696.28,462.48 704.40,462.57" fill="none" stroke="#00f" stroke-width="1.0"/>
<path d="M614.45,385.20 C614.76,390.63 615.70,408.74 616.32,417.79 C616.95,426.85 617.57,433.57 618.20,439.52 C618.82,445.47 619.45,450.38 620.07,453.49 C620.69,456.59 621.32,457.11 621.94,458.14 C622.57,459.18 623.19,459.44 623.82,459.70 C624.44,459.95 624.75,459.44 625.69,459.70 C626.63,459.95 627.57,460.86 629.44,461.25 C631.31,461.64 633.81,461.87 636.94,462.02 C640.06,462.18 643.18,462.11 648.18,462.18 C653.18,462.24 657.55,462.36 666.92,462.41 C676.29,462.46 698.15,462.48 704.40,462.49" fill="none" stroke="#0d0" stroke-width="1.2"/>
<rect x="680.3" y="388.2" width="21" height="13.5" fill="#fff" stroke="#999" stroke-width="0.5"/>
<line x1="681.4" y1="390.3" x2="687.2" y2="390.3" stroke="#000" stroke-width="0.9"/>
<rect x="688.3" y="389.6" width="11.5" height="1.4" fill="#c4c4c4"/>
<line x1="681.4" y1="393.55" x2="687.2" y2="393.55" stroke="#f00" stroke-width="0.9"/>
<rect x="688.3" y="392.85" width="11.5" height="1.4" fill="#c4c4c4"/>
<line x1="681.4" y1="396.8" x2="687.2" y2="396.8" stroke="#00f" stroke-width="0.9"/>
<rect x="688.3" y="396.1" width="11.5" height="1.4" fill="#c4c4c4"/>
<line x1="681.4" y1="400.05" x2="687.2" y2="400.05" stroke="#0d0" stroke-width="0.9"/>
<rect x="688.3" y="399.35" width="11.5" height="1.4" fill="#c4c4c4"/>
<text x="656" y="471.2" font-family="Liberation Sans" font-weight="bold" font-size="3.6" fill="#555" text-anchor="middle" letter-spacing="0.3">Singular values</text>
<text x="602.5" y="424.5" font-family="Liberation Sans" font-weight="bold" font-size="3.5" fill="#555" text-anchor="middle" transform="rotate(-90 602.5 424.5)">Normalized SVD space signal</text>
<text x="610.7" y="467.0" font-family="Liberation Sans" font-size="3" fill="#777" text-anchor="middle">0</text>
<text x="629.4" y="467.0" font-family="Liberation Sans" font-size="3" fill="#777" text-anchor="middle">5</text>
<text x="648.2" y="467.0" font-family="Liberation Sans" font-size="3" fill="#777" text-anchor="middle">10</text>
<text x="666.9" y="467.0" font-family="Liberation Sans" font-size="3" fill="#777" text-anchor="middle">15</text>
<text x="685.7" y="467.0" font-family="Liberation Sans" font-size="3" fill="#777" text-anchor="middle">20</text>
<text x="704.4" y="467.0" font-family="Liberation Sans" font-size="3" fill="#777" text-anchor="middle">25</text>
<text x="609.5" y="463.8" font-family="Liberation Sans" font-size="2.7" fill="#777" text-anchor="end">0</text>
<text x="609.5" y="456.0" font-family="Liberation Sans" font-size="2.7" fill="#777" text-anchor="end">0.1</text>
<text x="609.5" y="448.3" font-family="Liberation Sans" font-size="2.7" fill="#777" text-anchor="end">0.2</text>
<text x="609.5" y="440.5" font-family="Liberation Sans" font-size="2.7" fill="#777" text-anchor="end">0.3</text>
<text x="609.5" y="432.8" font-family="Liberation Sans" font-size="2.7" fill="#777" text-anchor="end">0.4</text>
<text x="609.5" y="425.0" font-family="Liberation Sans" font-size="2.7" fill="#777" text-anchor="end">0.5</text>
<text x="609.5" y="417.2" font-family="Liberation Sans" font-size="2.7" fill="#777" text-anchor="end">0.6</text>
<text x="609.5" y="409.5" font-family="Liberation Sans" font-size="2.7" fill="#777" text-anchor="end">0.7</text>
<text x="609.5" y="401.7" font-family="Liberation Sans" font-size="2.7" fill="#777" text-anchor="end">0.8</text>
<text x="609.5" y="394.0" font-family="Liberation Sans" font-size="2.7" fill="#777" text-anchor="end">0.9</text>
<text x="609.5" y="386.2" font-family="Liberation Sans" font-size="2.7" fill="#777" text-anchor="end">1</text>
<rect x="724.1" y="117.1" width="67.60000000000002" height="66.6" fill="#000"/>
<g transform="rotate(-8 757.2 147.9)">
<path d="M757.2,120.30000000000001 C770.0553348000001,120.30000000000001 782.5,132.65652 782.5,147.9 C782.5,163.14348 771.1731900000001,175.5 757.2,175.5 C743.22681,175.5 731.9000000000001,163.14348 731.9000000000001,147.9 C731.9000000000001,132.65652 744.3446652,120.30000000000001 757.2,120.30000000000001 Z" fill="url(#gs1)" filter="url(#blur05)"/>
<path d="M757.2,139.62 C761.05660044,139.62 764.7900000000001,143.326956 764.7900000000001,147.9 C764.7900000000001,152.47304400000002 761.391957,156.18 757.2,156.18 C753.008043,156.18 749.61,152.47304400000002 749.61,147.9 C749.61,143.326956 753.3433995600001,139.62 757.2,139.62 Z" fill="none" stroke="#999" stroke-opacity="0.12" stroke-width="1.1"/>
<path d="M757.2,134.1 C763.6276674000001,134.1 769.85,140.27826000000002 769.85,147.9 C769.85,155.52174 764.186595,161.70000000000002 757.2,161.70000000000002 C750.2134050000001,161.70000000000002 744.5500000000001,155.52174 744.5500000000001,147.9 C744.5500000000001,140.27826000000002 750.7723326,134.1 757.2,134.1 Z" fill="none" stroke="#999" stroke-opacity="0.12" stroke-width="1.1"/>
<path d="M757.2,129.132 C765.9416276640001,129.132 774.404,137.5344336 774.404,147.9 C774.404,158.2655664 766.7017692000001,166.668 757.2,166.668 C747.6982308,166.668 739.9960000000001,158.2655664 739.9960000000001,147.9 C739.9960000000001,137.5344336 748.458372336,129.132 757.2,129.132 Z" fill="none" stroke="#999" stroke-opacity="0.12" stroke-width="1.1"/>
<path d="M757.2,124.44 C768.1270345800001,124.44 778.705,134.943042 778.705,147.9 C778.705,160.85695800000002 769.0772115000001,171.36 757.2,171.36 C745.3227885,171.36 735.695,160.85695800000002 735.695,147.9 C735.695,134.943042 746.27296542,124.44 757.2,124.44 Z" fill="none" stroke="#999" stroke-opacity="0.12" stroke-width="1.1"/>
<g clip-path="url(#cs1)" opacity="0.28"><rect x="731.9000000000001" y="120.30000000000001" width="50.6" height="55.2" filter="url(#sn)"/></g>
</g>
<rect x="799" y="118.5" width="65.60000000000002" height="64.6" fill="#000"/>
<g transform="rotate(-5 830.8 149.5)">
<path d="M830.8,122.2 C843.4012768,122.2 855.5999999999999,134.42221 855.5999999999999,149.5 C855.5999999999999,164.57779 844.49704,176.8 830.8,176.8 C817.1029599999999,176.8 806.0,164.57779 806.0,149.5 C806.0,134.42221 818.1987231999999,122.2 830.8,122.2 Z" fill="url(#gs2)" filter="url(#blur05)"/>
<path d="M830.8,141.31 C834.5803830399999,141.31 838.24,144.976663 838.24,149.5 C838.24,154.023337 834.9091119999999,157.69 830.8,157.69 C826.690888,157.69 823.3599999999999,154.023337 823.3599999999999,149.5 C823.3599999999999,144.976663 827.01961696,141.31 830.8,141.31 Z" fill="none" stroke="#999" stroke-opacity="0.12" stroke-width="1.1"/>
<path d="M830.8,135.85 C837.1006384,135.85 843.1999999999999,141.961105 843.1999999999999,149.5 C843.1999999999999,157.038895 837.64852,163.15 830.8,163.15 C823.95148,163.15 818.4,157.038895 818.4,149.5 C818.4,141.961105 824.4993615999999,135.85 830.8,135.85 Z" fill="none" stroke="#999" stroke-opacity="0.12" stroke-width="1.1"/>
<path d="M830.8,130.936 C839.3688682239999,130.936 847.664,139.2471028 847.664,149.5 C847.664,159.7528972 840.1139872,168.064 830.8,168.064 C821.4860127999999,168.064 813.9359999999999,159.7528972 813.9359999999999,149.5 C813.9359999999999,139.2471028 822.231131776,130.936 830.8,130.936 Z" fill="none" stroke="#999" stroke-opacity="0.12" stroke-width="1.1"/>
<path d="M830.8,126.295 C841.51108528,126.295 851.88,136.6838785 851.88,149.5 C851.88,162.3161215 842.4424839999999,172.70499999999998 830.8,172.70499999999998 C819.157516,172.70499999999998 809.7199999999999,162.3161215 809.7199999999999,149.5 C809.7199999999999,136.6838785 820.0889147199999,126.295 830.8,126.295 Z" fill="none" stroke="#999" stroke-opacity="0.12" stroke-width="1.1"/>
<g clip-path="url(#cs2)" opacity="0.28"><rect x="806.0" y="122.2" width="49.6" height="54.6" filter="url(#sn)"/></g>
</g>
<rect x="927.2" y="116.8" width="65.79999999999995" height="65.10000000000001" fill="#000"/>
<g transform="rotate(-10 960 148.5)">
<path d="M960,120.7 C972.7029,120.7 985,133.14606 985,148.5 C985,163.85394 973.8075,176.3 960,176.3 C946.1925,176.3 935,163.85394 935,148.5 C935,133.14606 947.2971,120.7 960,120.7 Z" fill="url(#gs3)" filter="url(#blur05)"/>
<path d="M960,140.16 C963.81087,140.16 967.5,143.893818 967.5,148.5 C967.5,153.106182 964.14225,156.84 960,156.84 C955.85775,156.84 952.5,153.106182 952.5,148.5 C952.5,143.893818 956.18913,140.16 960,140.16 Z" fill="none" stroke="#999" stroke-opacity="0.12" stroke-width="1.1"/>
<path d="M960,134.6 C966.35145,134.6 972.5,140.82303 972.5,148.5 C972.5,156.17697 966.90375,162.4 960,162.4 C953.09625,162.4 947.5,156.17697 947.5,148.5 C947.5,140.82303 953.64855,134.6 960,134.6 Z" fill="none" stroke="#999" stroke-opacity="0.12" stroke-width="1.1"/>
<path d="M960,129.596 C968.637972,129.596 977.0,138.0593208 977.0,148.5 C977.0,158.9406792 969.3891,167.404 960,167.404 C950.6109,167.404 943.0,158.9406792 943.0,148.5 C943.0,138.0593208 951.362028,129.596 960,129.596 Z" fill="none" stroke="#999" stroke-opacity="0.12" stroke-width="1.1"/>
<path d="M960,124.87 C970.797465,124.87 981.25,135.449151 981.25,148.5 C981.25,161.550849 971.736375,172.13 960,172.13 C948.263625,172.13 938.75,161.550849 938.75,148.5 C938.75,135.449151 949.202535,124.87 960,124.87 Z" fill="none" stroke="#999" stroke-opacity="0.12" stroke-width="1.1"/>
<g clip-path="url(#cs3)" opacity="0.28"><rect x="935" y="120.7" width="50" height="55.6" filter="url(#sn)"/></g>
</g>
<circle cx="888.7" cy="150.6" r="1.3" fill="#000"/>
<circle cx="894.2" cy="150.6" r="1.3" fill="#000"/>
<circle cx="900.2" cy="150.6" r="1.3" fill="#000"/>
<rect x="705.1" y="282.1" width="69.89999999999998" height="68.79999999999995" fill="#000"/>
<g filter="url(#blur05)">
<path d="M739.4,286.0 C752.2409749999999,286.0 764.4,298.62514 764.4,314.2 C764.4,329.77486 753.2075,342.4 739.4,342.4 C725.5925,342.4 714.4,329.77486 714.4,314.2 C714.4,298.62514 726.559025,286.0 739.4,286.0 Z" fill="none" stroke="#474747" stroke-width="1.6" stroke-opacity="1"/>
<path d="M739.4,288.2 C751.3164247999999,288.2 762.6,299.92974 762.6,314.4 C762.6,328.87026 752.21336,340.59999999999997 739.4,340.59999999999997 C726.58664,340.59999999999997 716.1999999999999,328.87026 716.1999999999999,314.4 C716.1999999999999,299.92974 727.4835752,288.2 739.4,288.2 Z" fill="none" stroke="#2e2e2e" stroke-width="1.0" stroke-opacity="1"/>
<path d="M739.8,289.7 C750.006504,289.7 760.8,300.22095 760.8,313.2 C760.8,326.17904999999996 751.3983,336.7 739.8,336.7 C728.2017,336.7 718.8,326.17904999999996 718.8,313.2 C718.8,300.22095 729.593496,289.7 739.8,289.7 Z" fill="url(#gp1)"/>
<path d="M737.5,305 L737,312 L734,318 M742,305 L742.5,312 L745.5,318" stroke="#aaa" stroke-width="1.4" fill="none"/>
<path d="M739.8,300 L739.8,303 M739.8,320 L739.8,324" stroke="#ccc" stroke-width="1.3" fill="none"/>
<circle cx="722" cy="318" r="0.7" fill="#ccc"/>
<circle cx="757" cy="317" r="0.7" fill="#ccc"/>
<circle cx="731" cy="319" r="0.7" fill="#ccc"/>
<circle cx="748" cy="318" r="0.7" fill="#ccc"/>
<circle cx="734" cy="304" r="0.7" fill="#ccc"/>
<circle cx="745" cy="304" r="0.7" fill="#ccc"/>
<ellipse cx="739.8" cy="334.5" rx="1.8" ry="1.2" fill="#fff"/>
</g>
<rect x="779.3" y="282.1" width="70.20000000000005" height="68.79999999999995" fill="#000"/>
<g filter="url(#blur05)">
<path d="M813.9,286.59999999999997 C826.8437028,286.59999999999997 839.1,299.04605999999995 839.1,314.4 C839.1,329.75394 827.81796,342.2 813.9,342.2 C799.98204,342.2 788.6999999999999,329.75394 788.6999999999999,314.4 C788.6999999999999,299.04605999999995 800.9562972,286.59999999999997 813.9,286.59999999999997 Z" fill="none" stroke="#555" stroke-width="1.8" stroke-opacity="1"/>
<path d="M813.9,288.5 C825.9191526,288.5 837.3,300.09542999999996 837.3,314.4 C837.3,328.70457 826.82382,340.29999999999995 813.9,340.29999999999995 C800.97618,340.29999999999995 790.5,328.70457 790.5,314.4 C790.5,300.09542999999996 801.8808474,288.5 813.9,288.5 Z" fill="none" stroke="#2a2a2a" stroke-width="1.0" stroke-opacity="1"/>
<path d="M813.9,290.0 C824.934954,290.0 836.1,301.01342 836.1,314.6 C836.1,328.18658000000005 826.16106,339.20000000000005 813.9,339.20000000000005 C801.6389399999999,339.20000000000005 791.6999999999999,328.18658000000005 791.6999999999999,314.6 C791.6999999999999,301.01342 802.865046,290.0 813.9,290.0 Z" fill="url(#gp2)"/>
<path d="M829.3,315.0 L832.0,317.2 L834.9,315.2 M827.4,317.7 L830.2,320.4 L833.7,319.2 M827.2,319.5 L830.5,319.5 L833.2,321.7 M826.7,320.2 L829.8,320.5 L831.6,322.7 M826.0,322.6 L829.8,323.1 L831.8,326.5 M825.8,322.3 L829.6,323.2 L832.8,326.5 M824.6,327.3 L824.5,330.5 L827.4,330.8 M822.9,326.8 L824.6,330.4 L825.9,332.9 M821.1,328.4 L823.7,330.3 L825.2,333.9 M821.7,328.1 L825.1,329.6 L824.4,333.9 M819.5,329.4 L820.8,332.8 L822.7,336.2 M817.6,331.1 L816.2,333.7 L820.4,335.5 M815.0,331.9 L813.9,334.0 L815.8,336.0 M813.7,329.9 L814.9,333.0 L811.8,336.1 M813.0,331.7 L810.9,334.7 L813.3,338.2 M810.7,330.8 L811.8,334.4 L808.4,337.4 M807.5,330.4 L805.1,331.4 L807.4,334.2 M807.3,329.7 L806.6,333.1 L803.0,335.9 M805.6,327.7 L805.1,331.0 L803.8,332.7 M804.6,328.0 L803.9,331.7 L802.4,333.5 M801.8,324.3 L800.3,327.0 L797.3,327.8 M801.2,323.0 L799.9,326.3 L795.7,326.1 M801.4,323.6 L799.7,326.9 L795.6,327.4 M799.3,319.1 L797.0,321.8 L793.7,320.9 M799.0,319.9 L797.0,320.9 L794.4,321.4 M798.0,315.5 L795.8,315.7 L793.6,315.7 M799.5,314.7 L796.7,316.3 L793.7,314.7 M798.4,310.8 L796.0,310.2 L793.6,309.6 M799.7,312.1 L796.7,309.8 L793.0,310.9 M799.8,307.6 L797.6,305.7 L795.3,305.2 M800.1,307.1 L798.0,306.1 L796.5,304.9 M802.4,305.0 L800.0,302.1 L797.0,300.4 M801.8,304.9 L800.2,302.6 L797.7,301.7 M804.6,301.3 L802.2,299.2 L801.4,296.2 M805.7,299.9 L805.7,297.0 L804.6,295.7 M807.0,298.7 L805.9,295.9 L804.8,293.2 M807.4,298.9 L806.1,296.0 L805.7,293.0 M810.9,297.9 L811.6,295.3 L810.3,293.2 M812.6,298.4 L813.5,295.0 L812.7,291.8 M814.5,299.3 L814.4,296.1 L815.4,292.8 M814.9,297.7 L813.1,294.7 L815.1,291.7 M816.5,299.5 L816.3,296.2 L816.3,293.2 M818.0,300.0 L818.5,296.4 L820.4,293.1 M820.8,300.7 L820.5,296.3 L823.8,293.9 M821.7,300.8 L824.1,299.4 L823.9,296.2 M822.8,301.1 L824.3,299.2 L824.9,297.1 M826.0,303.1 L827.7,300.9 L830.8,299.4 M826.1,305.8 L828.5,304.6 L830.5,302.8 M828.6,307.9 L830.5,306.2 L833.6,305.9 M826.4,307.7 L829.6,306.5 L831.6,304.4 M829.3,310.9 L831.4,310.0 L833.3,309.8 M829.6,311.7 L831.9,313.6 L834.0,311.0" stroke="#e0e0e0" stroke-width="0.8" stroke-opacity="0.8" fill="none" stroke-linecap="round" stroke-linejoin="round"/>
<path d="M824.9,313.9 L825.3,314.5 L825.6,313.9 M824.8,316.9 L825.2,317.5 L825.7,317.1 M822.8,319.6 L823.2,321.0 L825.0,320.7 M820.9,320.8 L822.3,321.7 L822.8,323.0 M819.3,322.8 L819.1,324.9 L821.9,325.5 M817.1,324.8 L818.1,326.3 L817.7,328.2 M815.1,326.0 L815.1,327.8 L816.5,329.5 M813.5,326.8 L814.4,327.7 L812.4,328.6 M810.0,325.4 L810.0,327.2 L809.3,328.5 M808.1,322.5 L807.7,325.0 L805.2,326.0 M805.4,322.3 L804.4,323.1 L804.0,324.0 M805.3,320.5 L804.9,322.3 L802.6,322.0 M803.8,317.4 L803.2,318.3 L802.5,317.8 M804.4,314.9 L802.9,315.3 L801.4,315.0 M805.1,311.4 L803.4,311.7 L802.2,310.3 M806.1,309.0 L804.2,308.3 L802.2,306.6 M807.0,307.1 L806.1,306.3 L805.0,305.3 M808.1,305.7 L807.6,304.4 L806.2,303.4 M810.0,305.5 L809.5,304.1 L808.5,302.8 M813.3,303.5 L814.5,301.8 L812.0,300.1 M814.1,304.4 L814.4,302.6 L814.8,300.9 M817.5,303.1 L818.4,303.1 L817.0,302.5 M819.5,306.9 L821.5,305.3 L823.5,302.8 M820.9,307.9 L822.5,306.2 L823.5,304.7 M822.8,309.7 L823.6,308.1 L824.7,308.4 M823.5,312.2 L824.4,311.7 L825.5,311.7" stroke="#aaa" stroke-width="0.7" stroke-opacity="0.5" fill="none" stroke-linecap="round" stroke-linejoin="round"/>
<path d="M811.5,305 L811,314 L807,320 L804,323 M816.5,305 L817,314 L821,320 L824,323" stroke="#fafafa" stroke-width="2.3" fill="none"/>
<path d="M813.9,295 L813.9,304 M813.9,322 L813.9,338" stroke="#ddd" stroke-width="1.1" fill="none"/>
</g>
<rect x="853.1" y="282.1" width="69.89999999999998" height="68.79999999999995" fill="#000"/>
<g filter="url(#blur05)">
<path d="M887.6,286.6 C900.3382472000001,286.6 912.4,298.86698 912.4,314 C912.4,329.13302 901.29704,341.4 887.6,341.4 C873.90296,341.4 862.8000000000001,329.13302 862.8000000000001,314 C862.8000000000001,298.86698 874.8617528,286.6 887.6,286.6 Z" fill="none" stroke="#3c3c3c" stroke-width="2.0" stroke-opacity="1"/>
<path d="M887.8,289.90000000000003 C898.7355399999999,289.90000000000003 909.8,300.82388000000003 909.8,314.3 C909.8,327.77612 899.9506,338.7 887.8,338.7 C875.6493999999999,338.7 865.8,327.77612 865.8,314.3 C865.8,300.82388000000003 876.86446,289.90000000000003 887.8,289.90000000000003 Z" fill="url(#gp3)"/>
<path d="M902.4,314.2 L905.1,312.5 L907.9,314.2 M901.5,316.1 L904.7,317.4 L908.1,317.0 M901.8,319.1 L904.0,319.5 L906.3,320.5 M899.4,321.5 L903.3,321.7 L905.3,325.4 M899.9,322.3 L903.6,322.2 L906.3,326.0 M897.8,325.7 L897.9,328.9 L899.7,329.3 M897.9,325.3 L900.1,326.6 L901.0,329.1 M896.6,327.4 L898.8,328.3 L898.0,331.1 M893.9,328.4 L895.3,331.3 L896.9,334.3 M893.3,329.5 L892.5,333.4 L894.9,335.8 M890.2,329.6 L890.0,333.1 L892.8,336.4 M888.5,329.8 L887.4,333.1 L888.9,336.3 M887.1,330.9 L886.9,333.5 L887.9,336.1 M884.0,329.3 L884.8,333.1 L882.1,336.1 M882.6,329.6 L882.7,332.0 L881.7,333.8 M880.3,326.5 L879.5,330.1 L877.4,332.4 M877.8,327.2 L875.0,327.6 L876.0,330.9 M876.5,323.4 L873.9,324.2 L871.5,326.8 M877.0,323.8 L874.8,326.6 L872.5,328.3 M876.3,321.7 L872.5,321.7 L869.5,325.5 M875.1,318.4 L871.8,318.2 L868.9,320.3 M874.2,316.0 L871.1,316.5 L868.0,316.8 M872.5,315.1 L870.0,316.9 L867.2,315.4 M874.3,311.0 L870.9,310.1 L867.7,309.3 M874.9,309.4 L871.9,309.5 L869.7,307.4 M875.8,307.6 L872.4,306.1 L868.9,304.0 M874.8,305.3 L873.1,303.4 L871.8,302.6 M877.5,302.4 L876.1,300.2 L875.4,298.6 M879.0,301.6 L877.0,299.8 L876.7,297.2 M880.8,301.8 L880.3,297.7 L878.1,295.2 M882.6,298.5 L883.0,295.6 L880.6,293.6 M882.8,299.8 L883.5,296.4 L881.6,294.2 M885.8,298.3 L885.7,295.8 L886.0,293.4 M887.5,299.1 L886.7,295.9 L888.1,292.6 M888.8,299.5 L889.7,296.2 L890.2,292.9 M892.6,298.2 L891.3,295.4 L893.8,293.7 M893.3,300.5 L894.0,296.9 L895.0,293.8 M895.6,299.7 L896.0,297.8 L896.7,296.5 M896.4,301.8 L899.2,300.8 L899.5,297.4 M898.4,304.9 L901.1,303.1 L904.0,300.6 M899.4,305.1 L902.7,304.4 L903.9,301.0 M901.4,307.6 L903.8,307.2 L905.9,305.4 M902.0,311.3 L904.7,310.0 L907.8,310.0 M901.9,311.5 L904.3,310.1 L906.7,310.5" stroke="#333" stroke-width="0.8" stroke-opacity="0.7" fill="none" stroke-linecap="round" stroke-linejoin="round"/>
<path d="M885,306 L884.5,314 L880.5,320 M890.5,306 L891,314 L895,320" stroke="#2a2a2a" stroke-width="1.6" fill="none"/>
<path d="M886.3,307 L886.3,313 M889.3,307 L889.3,313" stroke="#9a9a9a" stroke-width="1.3" fill="none"/>
<circle cx="881.5" cy="319" r="1" fill="#eee"/><circle cx="887.5" cy="335.5" r="1.3" fill="#fff"/>
</g>
<rect x="952.2" y="281.9" width="70.59999999999991" height="68.80000000000001" fill="#000"/>
<path d="M986.8,285.59999999999997 C1000.1126392,285.59999999999997 1013.0,298.40422 1013.0,314.2 C1013.0,329.99577999999997 1001.27026,342.8 986.8,342.8 C972.3297399999999,342.8 960.5999999999999,329.99577999999997 960.5999999999999,314.2 C960.5999999999999,298.40422 973.4873607999999,285.59999999999997 986.8,285.59999999999997 Z" fill="url(#gp4)" filter="url(#blur05)"/>
<g clip-path="url(#cp4)" opacity="0.45"><rect x="960" y="285" width="54" height="58" filter="url(#noise3)"/></g>
<g clip-path="url(#cp4b)" opacity="0.6"><rect x="960" y="285" width="54" height="58" filter="url(#noise4)"/></g>
<path d="M986.8,304.19 C991.4594237199999,304.19 995.9699999999999,308.671477 995.9699999999999,314.2 C995.9699999999999,319.728523 991.8645909999999,324.21 986.8,324.21 C981.735409,324.21 977.63,319.728523 977.63,314.2 C977.63,308.671477 982.14057628,304.19 986.8,304.19 Z" fill="none" stroke="#fff" stroke-opacity="0.2" stroke-width="1.2"/>
<path d="M986.8,297.03999999999996 C994.78758352,297.03999999999996 1002.52,304.722532 1002.52,314.2 C1002.52,323.677468 995.4821559999999,331.36 986.8,331.36 C978.117844,331.36 971.0799999999999,323.677468 971.0799999999999,314.2 C971.0799999999999,304.722532 978.8124164799999,297.03999999999996 986.8,297.03999999999996 Z" fill="none" stroke="#fff" stroke-opacity="0.2" stroke-width="1.2"/>
<path d="M986.8,290.748 C997.716364144,290.748 1008.284,301.24746039999997 1008.284,314.2 C1008.284,327.1525396 998.6656131999999,337.652 986.8,337.652 C974.9343868,337.652 965.3159999999999,327.1525396 965.3159999999999,314.2 C965.3159999999999,301.24746039999997 975.883635856,290.748 986.8,290.748 Z" fill="none" stroke="#fff" stroke-opacity="0.2" stroke-width="1.2"/>
<circle cx="931.4" cy="316.4" r="1.4" fill="#000"/>
<circle cx="937.2" cy="316.4" r="1.4" fill="#000"/>
<circle cx="942.9" cy="316.4" r="1.4" fill="#000"/>
<rect x="1011" y="385.1" width="83.70000000000005" height="77.69999999999999" fill="#00008c"/>
<rect x="1097.3" y="385.1" width="5.600000000000136" height="77.69999999999999" fill="url(#jet)"/>
<rect x="1104.4" y="384.70000000000005" width="2.5" height="0.8" fill="#bbb"/>
<rect x="1104.4" y="400.24000000000007" width="2.5" height="0.8" fill="#bbb"/>
<rect x="1104.4" y="415.78000000000003" width="2.5" height="0.8" fill="#bbb"/>
<rect x="1104.4" y="431.32000000000005" width="2.5" height="0.8" fill="#bbb"/>
<rect x="1104.4" y="446.86" width="2.5" height="0.8" fill="#bbb"/>
<rect x="1104.4" y="462.40000000000003" width="2.5" height="0.8" fill="#bbb"/>
<path d="M1052.5,389.2 C1068.3200812,389.2 1083.3,403.52639999999997 1083.3,421.2 C1083.3,438.8736 1069.51084,453.2 1052.5,453.2 C1035.48916,453.2 1021.7,438.8736 1021.7,421.2 C1021.7,403.52639999999997 1036.6799188,389.2 1052.5,389.2 Z" fill="none" stroke="#2a80ff" stroke-width="1.4"/>
<path d="M1052.5,388.2 C1068.8337202,388.2 1084.3,402.97409999999996 1084.3,421.2 C1084.3,439.4259 1070.06314,454.2 1052.5,454.2 C1034.93686,454.2 1020.7,439.4259 1020.7,421.2 C1020.7,402.97409999999996 1036.1662798,388.2 1052.5,388.2 Z" fill="none" stroke="#d04020" stroke-width="0.8" stroke-dasharray="1.2 3"/>
<path d="M1052.5,391.3 C1067.4982588,391.3 1081.7,404.82054 1081.7,421.5 C1081.7,438.17946 1068.62716,451.7 1052.5,451.7 C1036.37284,451.7 1023.3,438.17946 1023.3,421.5 C1023.3,404.82054 1037.5017412,391.3 1052.5,391.3 Z" fill="#0850f0"/>
<path d="M1052.5,392.5 C1066.881892,392.5 1080.5,405.4833 1080.5,421.5 C1080.5,437.5167 1067.9644,450.5 1052.5,450.5 C1037.0356,450.5 1024.5,437.5167 1024.5,421.5 C1024.5,405.4833 1038.118108,392.5 1052.5,392.5 Z" fill="url(#b1g)"/>
<g clip-path="url(#cb1c)" opacity="0.3"><rect x="1024" y="392" width="57" height="59" filter="url(#cya)"/></g>
<path d="M1052.5,404 L1052.5,440" stroke="#ff9000" stroke-width="0.8" fill="none" opacity="0.6"/>
<circle cx="1050" cy="414" r="0.9" fill="#f03000" opacity="0.85"/>
<circle cx="1054.5" cy="413" r="0.9" fill="#f03000" opacity="0.85"/>
<circle cx="1052" cy="421" r="0.9" fill="#f03000" opacity="0.85"/>
<circle cx="1047" cy="426" r="0.9" fill="#f03000" opacity="0.85"/>
<circle cx="1057" cy="427" r="0.9" fill="#f03000" opacity="0.85"/>
<circle cx="1052.5" cy="432" r="0.9" fill="#f03000" opacity="0.85"/>
<circle cx="1052" cy="439" r="0.9" fill="#f03000" opacity="0.85"/>
<ellipse cx="1052.5" cy="446.5" rx="2" ry="1.2" fill="#500000"/>
<rect x="761.4" y="553" width="83.60000000000002" height="77.70000000000005" fill="#00008c"/>
<rect x="848" y="553" width="6" height="77.70000000000005" fill="url(#jet)"/>
<rect x="855.5" y="552.6" width="2.5" height="0.8" fill="#bbb"/>
<rect x="855.5" y="568.14" width="2.5" height="0.8" fill="#bbb"/>
<rect x="855.5" y="583.6800000000001" width="2.5" height="0.8" fill="#bbb"/>
<rect x="855.5" y="599.22" width="2.5" height="0.8" fill="#bbb"/>
<rect x="855.5" y="614.7600000000001" width="2.5" height="0.8" fill="#bbb"/>
<rect x="855.5" y="630.3000000000001" width="2.5" height="0.8" fill="#bbb"/>
<path d="M801.6,557.8 C816.2387115,557.8 830.1,571.4996199999999 830.1,588.4 C830.1,605.30038 817.34055,619.0 801.6,619.0 C785.85945,619.0 773.1,605.30038 773.1,588.4 C773.1,571.4996199999999 786.9612885,557.8 801.6,557.8 Z" fill="none" stroke="#40c8ff" stroke-width="2.2"/>
<path d="M802.2,559.4 C815.8627974000001,559.4 828.8000000000001,572.20422 828.8000000000001,588 C828.8000000000001,603.79578 816.8911800000001,616.6 802.2,616.6 C787.50882,616.6 775.6,603.79578 775.6,588 C775.6,572.20422 788.5372026,559.4 802.2,559.4 Z" fill="#0030d8"/>
<path d="M802.6,560.4 C815.5950667000001,560.4 827.9,572.66698 827.9,587.8 C827.9,602.9330199999999 816.5731900000001,615.1999999999999 802.6,615.1999999999999 C788.62681,615.1999999999999 777.3000000000001,602.9330199999999 777.3000000000001,587.8 C777.3000000000001,572.66698 789.6049333,560.4 802.6,560.4 Z" fill="#40c0f0"/>
<path d="M802.6,561.9 C814.8246082000001,561.9 826.4,573.4954299999999 826.4,587.8 C826.4,602.10457 815.74474,613.6999999999999 802.6,613.6999999999999 C789.4552600000001,613.6999999999999 778.8000000000001,602.10457 778.8000000000001,587.8 C778.8000000000001,573.4954299999999 790.3753918,561.9 802.6,561.9 Z" fill="none" stroke="#e07010" stroke-width="1.6" stroke-dasharray="3 1.5 1 2"/>
<g clip-path="url(#ct1y)" opacity="0.95"><rect x="777" y="560" width="52" height="56" filter="url(#yel2)"/></g>
<g clip-path="url(#ct1o)" opacity="1.0"><rect x="777.3000000000001" y="560.4" width="50.6" height="54.8" filter="url(#ora)"/></g>
<path d="M799.5,578 L798.8,588 L794.5,594 M805.5,578 L806.2,588 L810.5,594" stroke="#a00000" stroke-width="2.4" fill="none" stroke-linecap="round"/>
<path d="M802.6,563 L802.6,572 M802.6,602 L802.6,612" stroke="#c02000" stroke-width="1.4" fill="none"/>
<rect x="878.4" y="553" width="83.60000000000002" height="77.70000000000005" fill="#00008c"/>
<rect x="965.3" y="553" width="5.400000000000091" height="77.70000000000005" fill="url(#jet)"/>
<rect x="972.2" y="552.6" width="2.5" height="0.8" fill="#bbb"/>
<rect x="972.2" y="568.14" width="2.5" height="0.8" fill="#bbb"/>
<rect x="972.2" y="583.6800000000001" width="2.5" height="0.8" fill="#bbb"/>
<rect x="972.2" y="599.22" width="2.5" height="0.8" fill="#bbb"/>
<rect x="972.2" y="614.7600000000001" width="2.5" height="0.8" fill="#bbb"/>
<rect x="972.2" y="630.3000000000001" width="2.5" height="0.8" fill="#bbb"/>
<path d="M919.3,558 C934.8118978,558 949.5,571.8787 949.5,589 C949.5,606.1213 935.9794599999999,620 919.3,620 C902.62054,620 889.0999999999999,606.1213 889.0999999999999,589 C889.0999999999999,571.8787 903.7881021999999,558 919.3,558 Z" fill="none" stroke="#30b0ff" stroke-width="1.8"/>
<path d="M919.5,560.1 C933.7791642,560.1 947.3,572.90422 947.3,588.7 C947.3,604.4957800000001 934.85394,617.3000000000001 919.5,617.3000000000001 C904.14606,617.3000000000001 891.7,604.4957800000001 891.7,588.7 C891.7,572.90422 905.2208358,560.1 919.5,560.1 Z" fill="#1050f0"/>
<path d="M919.5,561.3 C932.9573418,561.3 945.7,573.47744 945.7,588.5 C945.7,603.52256 933.97026,615.7 919.5,615.7 C905.02974,615.7 893.3,603.52256 893.3,588.5 C893.3,573.47744 906.0426582,561.3 919.5,561.3 Z" fill="#2c8cff"/>
<g clip-path="url(#ct2c)" opacity="0.6"><rect x="893" y="561" width="53" height="55" filter="url(#cya)"/></g>
<g clip-path="url(#ct2r)" opacity="0.95"><rect x="893.3" y="561.3" width="52.4" height="54.4" filter="url(#red)"/></g>
<path d="M916.5,577 L915.8,588 L911,595 M922.5,577 L923.2,588 L928,595" stroke="#a00000" stroke-width="2.4" fill="none" stroke-linecap="round"/>
<path d="M919.5,563 L919.5,573 M919.5,602 L919.5,614" stroke="#a00000" stroke-width="1.5" fill="none"/></svg></body></html>
